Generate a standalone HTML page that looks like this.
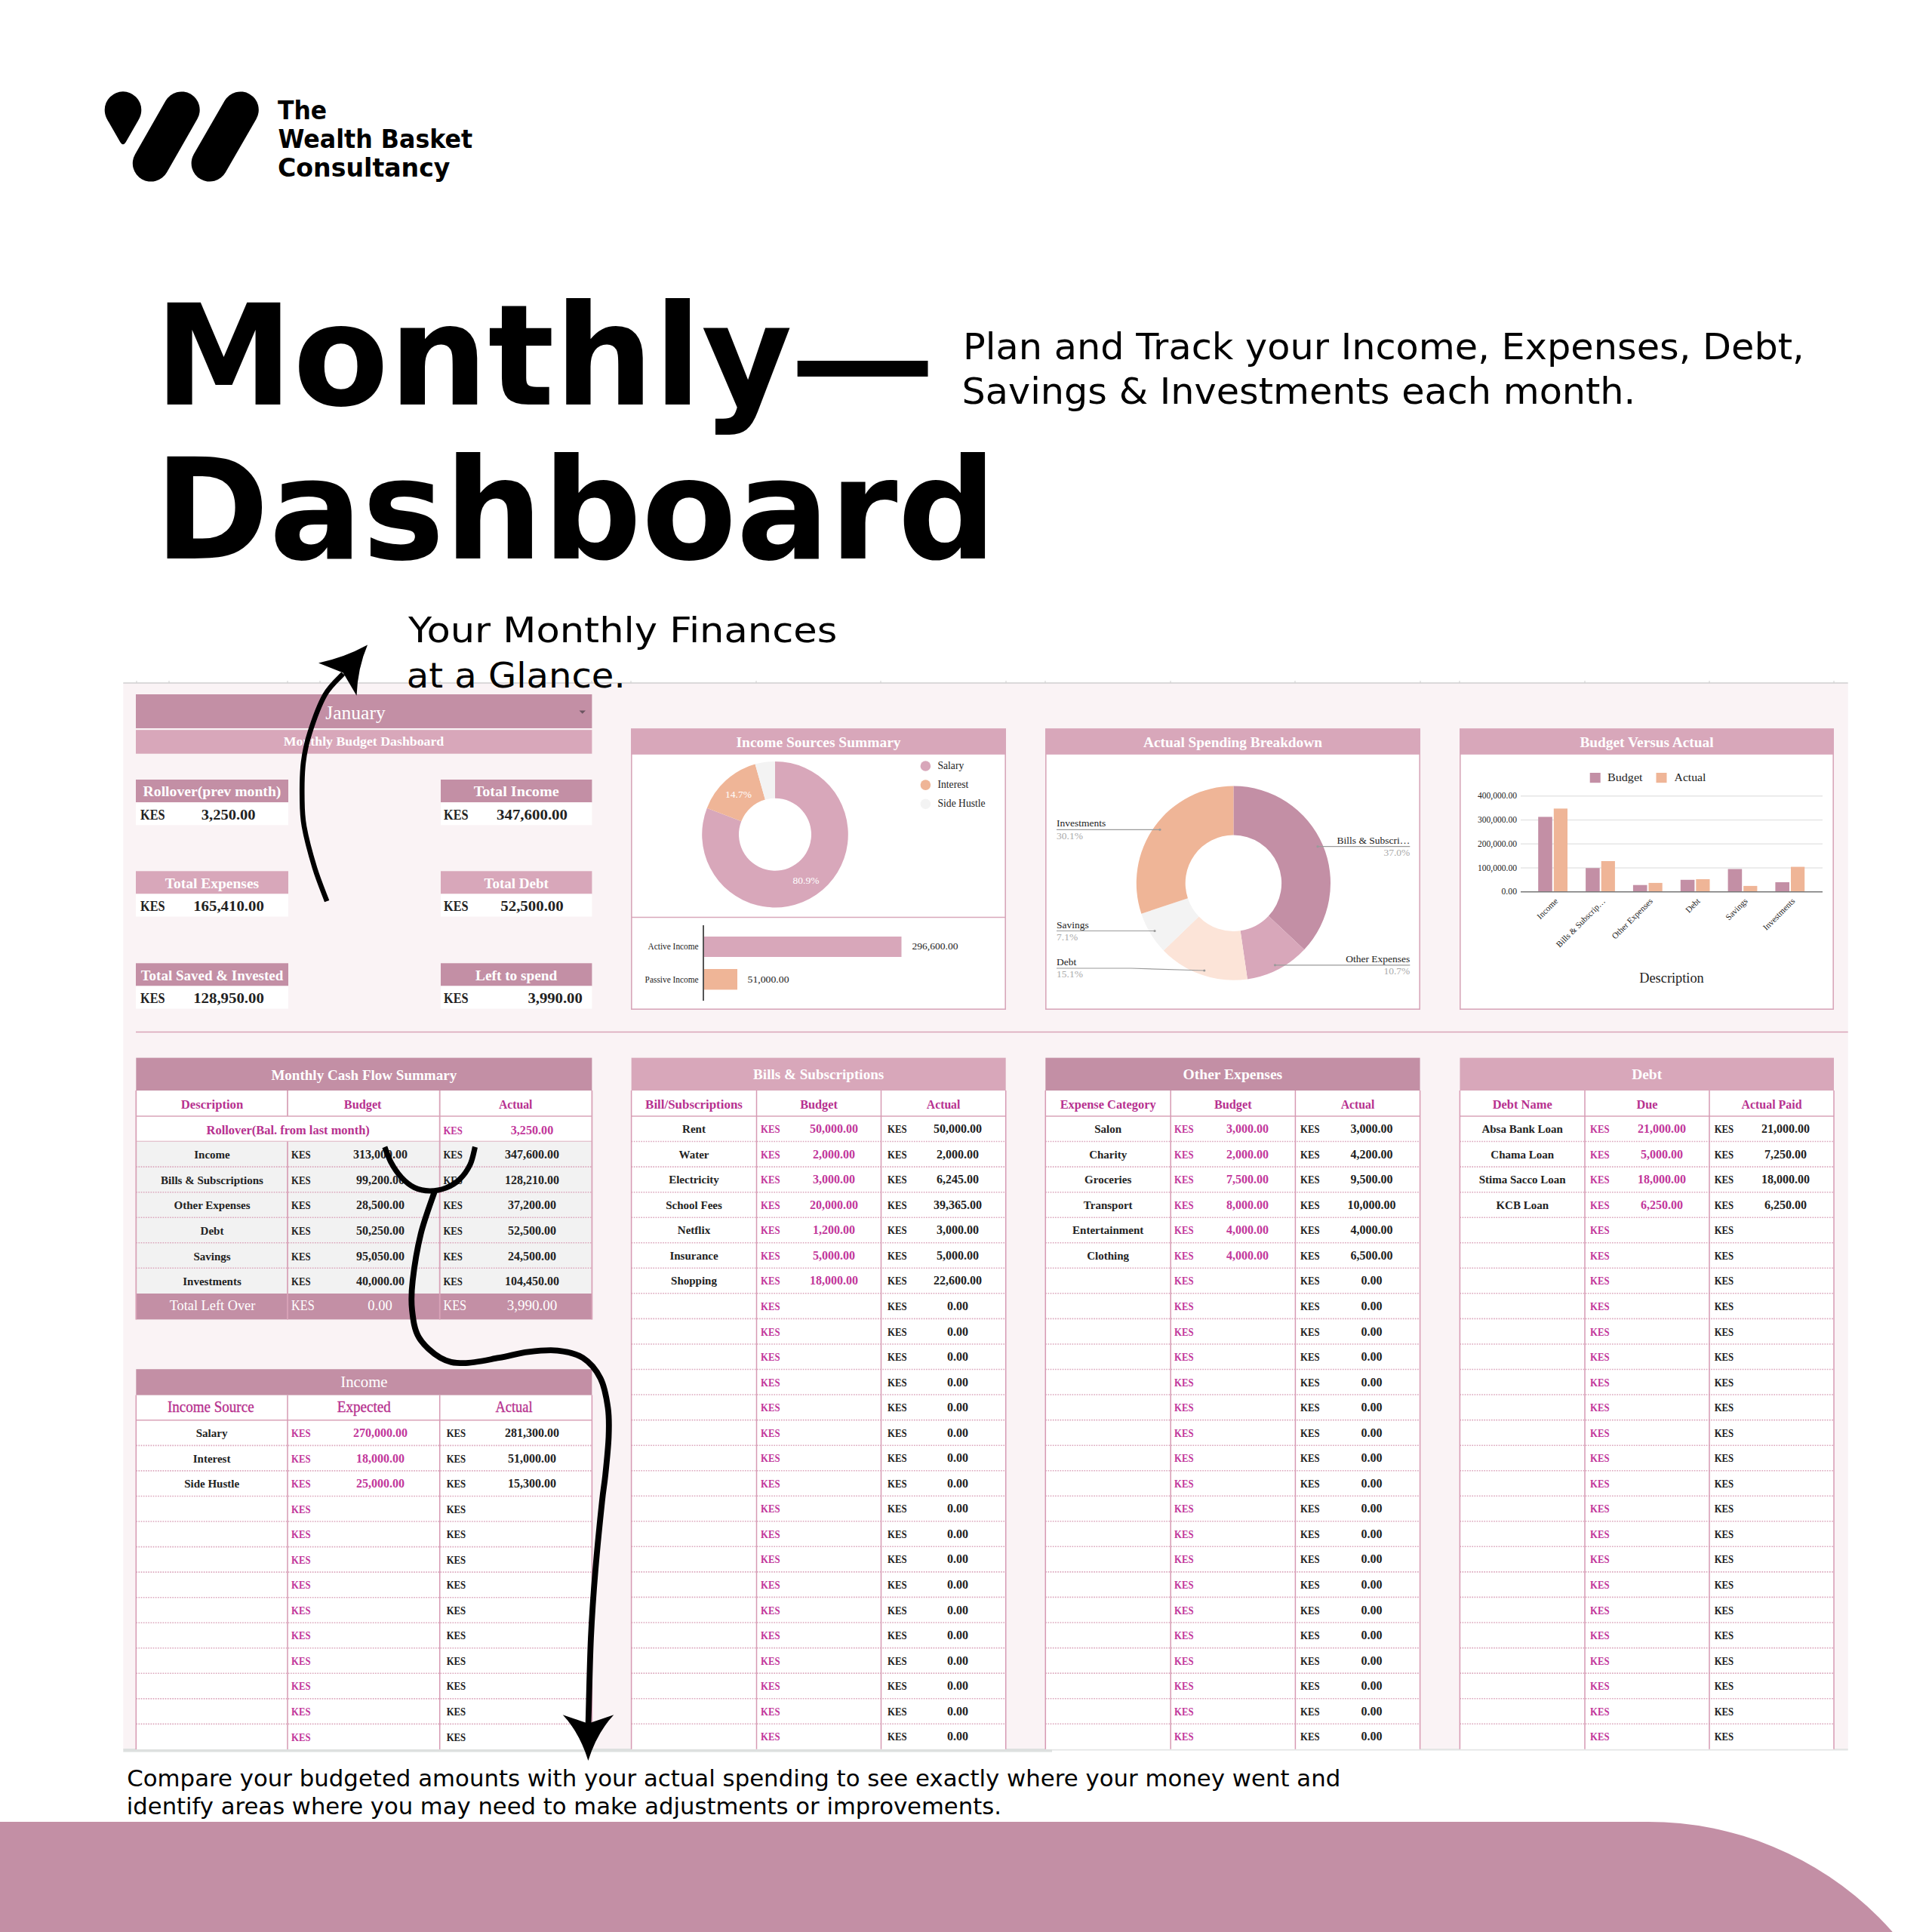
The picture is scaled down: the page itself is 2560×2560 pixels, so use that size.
<!DOCTYPE html>
<html lang="en"><head><meta charset="utf-8"><title>Monthly Dashboard</title>
<style>
html,body{margin:0;padding:0;background:#fff}
body{width:2560px;height:2560px;position:relative;overflow:hidden;font-family:"DejaVu Sans","Liberation Sans",sans-serif;color:#000}
.abs{position:absolute;white-space:nowrap;transform-origin:0 0;line-height:1}
#dash{position:absolute;left:0;top:0}
#dash text{font-family:'Liberation Serif','DejaVu Serif',serif}
.blob{position:absolute;left:-50px;top:2413.6px;width:2666px;height:700px;background:#C38FA5;border-top-right-radius:432px}
</style></head><body>
<div class="blob"></div>
<svg id="dash" width="2560" height="2560" viewBox="0 0 2560 2560">
<rect x="163.3" y="905.0" width="2285.4" height="1413.0" fill="#FAF3F5" />
<line x1="163.3" y1="905.0" x2="2448.7" y2="905.0" stroke="#CFCFCF" stroke-width="1.5" />
<line x1="181.0" y1="902.0" x2="181.0" y2="905.0" stroke="#CFCFCF" stroke-width="1" />
<line x1="224.0" y1="902.0" x2="224.0" y2="905.0" stroke="#CFCFCF" stroke-width="1" />
<line x1="381.0" y1="902.0" x2="381.0" y2="905.0" stroke="#CFCFCF" stroke-width="1" />
<line x1="424.0" y1="902.0" x2="424.0" y2="905.0" stroke="#CFCFCF" stroke-width="1" />
<line x1="583.0" y1="902.0" x2="583.0" y2="905.0" stroke="#CFCFCF" stroke-width="1" />
<line x1="626.0" y1="902.0" x2="626.0" y2="905.0" stroke="#CFCFCF" stroke-width="1" />
<line x1="784.0" y1="902.0" x2="784.0" y2="905.0" stroke="#CFCFCF" stroke-width="1" />
<line x1="836.0" y1="902.0" x2="836.0" y2="905.0" stroke="#CFCFCF" stroke-width="1" />
<line x1="1002.0" y1="902.0" x2="1002.0" y2="905.0" stroke="#CFCFCF" stroke-width="1" />
<line x1="1167.0" y1="902.0" x2="1167.0" y2="905.0" stroke="#CFCFCF" stroke-width="1" />
<line x1="1333.0" y1="902.0" x2="1333.0" y2="905.0" stroke="#CFCFCF" stroke-width="1" />
<line x1="1385.0" y1="902.0" x2="1385.0" y2="905.0" stroke="#CFCFCF" stroke-width="1" />
<line x1="1551.0" y1="902.0" x2="1551.0" y2="905.0" stroke="#CFCFCF" stroke-width="1" />
<line x1="1716.0" y1="902.0" x2="1716.0" y2="905.0" stroke="#CFCFCF" stroke-width="1" />
<line x1="1882.0" y1="902.0" x2="1882.0" y2="905.0" stroke="#CFCFCF" stroke-width="1" />
<line x1="1934.0" y1="902.0" x2="1934.0" y2="905.0" stroke="#CFCFCF" stroke-width="1" />
<line x1="2100.0" y1="902.0" x2="2100.0" y2="905.0" stroke="#CFCFCF" stroke-width="1" />
<line x1="2265.0" y1="902.0" x2="2265.0" y2="905.0" stroke="#CFCFCF" stroke-width="1" />
<line x1="2430.0" y1="902.0" x2="2430.0" y2="905.0" stroke="#CFCFCF" stroke-width="1" />
<rect x="163.3" y="2317.0" width="1230.7" height="4.5" fill="#DDE0DF" />
<rect x="1394.0" y="2317.0" width="1054.7" height="2.5" fill="#E4E6E5" />
<line x1="180.0" y1="1367.5" x2="2448.7" y2="1367.5" stroke="#D9A3B8" stroke-width="1.6" />
<rect x="180.0" y="920.0" width="604.4" height="45.0" fill="#C38FA5" />
<rect x="180.0" y="967.2" width="604.4" height="31.5" fill="#D8A7BA" />
<text x="471.0" y="953.0" font-size="25" fill="#fff" text-anchor="middle" font-weight="normal" textLength="79.5" lengthAdjust="spacingAndGlyphs" >January</text>
<path d="M767.5 941.5h8.5l-4.25 4.2z" fill="#6b5560"/>
<text x="482.0" y="987.6" font-size="17" fill="#fff" text-anchor="middle" font-weight="bold" textLength="212.5" lengthAdjust="spacingAndGlyphs" >Monthly Budget Dashboard</text>
<rect x="180.0" y="1033.0" width="202.0" height="30.2" fill="#C38FA5" />
<rect x="180.0" y="1063.2" width="202.0" height="30.1" fill="#fff" />
<text x="281.0" y="1055.3" font-size="19" fill="#fff" text-anchor="middle" font-weight="bold" textLength="182.8" lengthAdjust="spacingAndGlyphs" >Rollover(prev month)</text>
<text x="186.0" y="1085.5" font-size="18" fill="#222222" text-anchor="start" font-weight="bold" textLength="32.5" lengthAdjust="spacingAndGlyphs" >KES</text>
<text x="302.7" y="1085.5" font-size="18" fill="#222222" text-anchor="middle" font-weight="bold" textLength="71.7" lengthAdjust="spacingAndGlyphs" >3,250.00</text>
<rect x="584.0" y="1033.0" width="200.4" height="30.2" fill="#C38FA5" />
<rect x="584.0" y="1063.2" width="200.4" height="30.1" fill="#fff" />
<text x="684.2" y="1055.3" font-size="19" fill="#fff" text-anchor="middle" font-weight="bold" textLength="113.0" lengthAdjust="spacingAndGlyphs" >Total  Income</text>
<text x="588.0" y="1085.5" font-size="18" fill="#222222" text-anchor="start" font-weight="bold" textLength="32.5" lengthAdjust="spacingAndGlyphs" >KES</text>
<text x="705.0" y="1085.5" font-size="18" fill="#222222" text-anchor="middle" font-weight="bold" textLength="94.0" lengthAdjust="spacingAndGlyphs" >347,600.00</text>
<rect x="180.0" y="1154.3" width="202.0" height="30.2" fill="#D8A7BA" />
<rect x="180.0" y="1184.5" width="202.0" height="30.1" fill="#fff" />
<text x="281.0" y="1176.6" font-size="19" fill="#fff" text-anchor="middle" font-weight="bold" textLength="124.4" lengthAdjust="spacingAndGlyphs" >Total Expenses</text>
<text x="186.0" y="1206.8" font-size="18" fill="#222222" text-anchor="start" font-weight="bold" textLength="32.5" lengthAdjust="spacingAndGlyphs" >KES</text>
<text x="303.0" y="1206.8" font-size="18" fill="#222222" text-anchor="middle" font-weight="bold" textLength="93.6" lengthAdjust="spacingAndGlyphs" >165,410.00</text>
<rect x="584.0" y="1154.3" width="200.4" height="30.2" fill="#D8A7BA" />
<rect x="584.0" y="1184.5" width="200.4" height="30.1" fill="#fff" />
<text x="684.2" y="1176.6" font-size="19" fill="#fff" text-anchor="middle" font-weight="bold" textLength="85.4" lengthAdjust="spacingAndGlyphs" >Total Debt</text>
<text x="588.0" y="1206.8" font-size="18" fill="#222222" text-anchor="start" font-weight="bold" textLength="32.5" lengthAdjust="spacingAndGlyphs" >KES</text>
<text x="705.0" y="1206.8" font-size="18" fill="#222222" text-anchor="middle" font-weight="bold" textLength="83.4" lengthAdjust="spacingAndGlyphs" >52,500.00</text>
<rect x="180.0" y="1276.3" width="202.0" height="30.2" fill="#C38FA5" />
<rect x="180.0" y="1306.5" width="202.0" height="30.1" fill="#fff" />
<text x="281.0" y="1298.6" font-size="19" fill="#fff" text-anchor="middle" font-weight="bold" textLength="188.6" lengthAdjust="spacingAndGlyphs" >Total Saved &amp; Invested</text>
<text x="186.0" y="1328.8" font-size="18" fill="#222222" text-anchor="start" font-weight="bold" textLength="32.5" lengthAdjust="spacingAndGlyphs" >KES</text>
<text x="303.0" y="1328.8" font-size="18" fill="#222222" text-anchor="middle" font-weight="bold" textLength="93.6" lengthAdjust="spacingAndGlyphs" >128,950.00</text>
<rect x="584.0" y="1276.3" width="200.4" height="30.2" fill="#C38FA5" />
<rect x="584.0" y="1306.5" width="200.4" height="30.1" fill="#fff" />
<text x="684.2" y="1298.6" font-size="19" fill="#fff" text-anchor="middle" font-weight="bold" textLength="108.3" lengthAdjust="spacingAndGlyphs" >Left to spend</text>
<text x="588.0" y="1328.8" font-size="18" fill="#222222" text-anchor="start" font-weight="bold" textLength="32.5" lengthAdjust="spacingAndGlyphs" >KES</text>
<text x="771.8" y="1328.8" font-size="18" fill="#222222" text-anchor="end" font-weight="bold" textLength="72.4" lengthAdjust="spacingAndGlyphs" >3,990.00</text>
<rect x="836.8" y="966.2" width="495.4" height="371.0" fill="#fff" stroke="#D8A7BA" stroke-width="1.6"/>
<rect x="836.0" y="965.4" width="497.0" height="34.4" fill="#D8A7BA" />
<text x="1084.5" y="990.0" font-size="19" fill="#fff" text-anchor="middle" font-weight="bold" textLength="218.0" lengthAdjust="spacingAndGlyphs" >Income Sources Summary</text>
<rect x="1385.8" y="966.2" width="495.4" height="371.0" fill="#fff" stroke="#D8A7BA" stroke-width="1.6"/>
<rect x="1385.0" y="965.4" width="497.0" height="34.4" fill="#D8A7BA" />
<text x="1633.5" y="990.0" font-size="19" fill="#fff" text-anchor="middle" font-weight="bold" textLength="237.0" lengthAdjust="spacingAndGlyphs" >Actual Spending Breakdown</text>
<rect x="1934.8" y="966.2" width="494.4" height="371.0" fill="#fff" stroke="#D8A7BA" stroke-width="1.6"/>
<rect x="1934.0" y="965.4" width="496.0" height="34.4" fill="#D8A7BA" />
<text x="2182.0" y="990.0" font-size="19" fill="#fff" text-anchor="middle" font-weight="bold" textLength="177.2" lengthAdjust="spacingAndGlyphs" >Budget Versus Actual</text>
<path d="M1027.00 1008.90A96.8 96.8 0 1 1 936.78 1070.63L982.26 1088.31A48 48 0 1 0 1027.00 1057.70Z" fill="#D8A7BA"/>
<path d="M936.78 1070.63A96.8 96.8 0 0 1 1000.58 1012.58L1013.90 1059.52A48 48 0 0 0 982.26 1088.31Z" fill="#EFB597"/>
<path d="M1000.58 1012.58A96.8 96.8 0 0 1 1027.00 1008.90L1027.00 1057.70A48 48 0 0 0 1013.90 1059.52Z" fill="#F3F3F3"/>
<text x="978.5" y="1057.0" font-size="13.5" fill="#fff" text-anchor="middle" font-weight="normal" >14.7%</text>
<text x="1068.0" y="1170.5" font-size="13.5" fill="#fff" text-anchor="middle" font-weight="normal" >80.9%</text>
<circle cx="1226.4" cy="1015.0" r="6.8" fill="#D8A7BA"/>
<text x="1242.5" y="1019.0" font-size="13.6" fill="#222" text-anchor="start" font-weight="normal" >Salary</text>
<circle cx="1226.4" cy="1040.1" r="6.8" fill="#EFB597"/>
<text x="1242.5" y="1044.1" font-size="13.6" fill="#222" text-anchor="start" font-weight="normal" >Interest</text>
<circle cx="1226.4" cy="1065.2" r="6.8" fill="#F3F3F3"/>
<text x="1242.5" y="1069.2" font-size="13.6" fill="#222" text-anchor="start" font-weight="normal" >Side Hustle</text>
<line x1="836.0" y1="1215.5" x2="1333.0" y2="1215.5" stroke="#D8A7BA" stroke-width="1.6" />
<rect x="932.0" y="1241.0" width="262.5" height="27.0" fill="#D8A7BA" />
<rect x="932.0" y="1284.0" width="45.0" height="27.4" fill="#EFB597" />
<line x1="932.0" y1="1226.0" x2="932.0" y2="1326.0" stroke="#555" stroke-width="2" />
<text x="925.6" y="1258.0" font-size="11.5" fill="#222" text-anchor="end" font-weight="normal" textLength="67.0" lengthAdjust="spacingAndGlyphs" >Active Income</text>
<text x="925.6" y="1301.5" font-size="11.5" fill="#222" text-anchor="end" font-weight="normal" textLength="71.0" lengthAdjust="spacingAndGlyphs" >Passive Income</text>
<text x="1208.5" y="1258.0" font-size="12" fill="#222" text-anchor="start" font-weight="normal" textLength="61.0" lengthAdjust="spacingAndGlyphs" >296,600.00</text>
<text x="990.5" y="1301.5" font-size="12" fill="#222" text-anchor="start" font-weight="normal" textLength="55.0" lengthAdjust="spacingAndGlyphs" >51,000.00</text>
<path d="M1634.40 1041.60A128.6 128.6 0 0 1 1728.15 1258.23L1680.84 1213.81A63.7 63.7 0 0 0 1634.40 1106.50Z" fill="#C38FA5"/>
<path d="M1728.15 1258.23A128.6 128.6 0 0 1 1652.92 1297.46L1643.57 1233.24A63.7 63.7 0 0 0 1680.84 1213.81Z" fill="#D8A7BA"/>
<path d="M1652.92 1297.46A128.6 128.6 0 0 1 1541.77 1259.40L1588.52 1214.39A63.7 63.7 0 0 0 1643.57 1233.24Z" fill="#FCE4D8"/>
<path d="M1541.77 1259.40A128.6 128.6 0 0 1 1512.35 1210.71L1573.94 1190.26A63.7 63.7 0 0 0 1588.52 1214.39Z" fill="#F3F3F3"/>
<path d="M1512.35 1210.71A128.6 128.6 0 0 1 1634.40 1041.60L1634.40 1106.50A63.7 63.7 0 0 0 1573.94 1190.26Z" fill="#EFB597"/>
<text x="1400.0" y="1095.3" font-size="13.5" fill="#222" text-anchor="start" font-weight="normal" >Investments</text>
<text x="1400.0" y="1111.6" font-size="13.5" fill="#aaa" text-anchor="start" font-weight="normal" >30.1%</text>
<line x1="1400.0" y1="1099.3" x2="1536.9" y2="1099.3" stroke="#9a9a9a" stroke-width="1.2" />
<circle cx="1536.9" cy="1099.3" r="1.6" fill="#9a9a9a"/>
<text x="1400.0" y="1229.5" font-size="13.5" fill="#222" text-anchor="start" font-weight="normal" >Savings</text>
<text x="1400.0" y="1245.8" font-size="13.5" fill="#aaa" text-anchor="start" font-weight="normal" >7.1%</text>
<line x1="1400.0" y1="1233.5" x2="1530.0" y2="1233.5" stroke="#9a9a9a" stroke-width="1.2" />
<circle cx="1530.0" cy="1233.5" r="1.6" fill="#9a9a9a"/>
<text x="1400.0" y="1279.0" font-size="13.5" fill="#222" text-anchor="start" font-weight="normal" >Debt</text>
<text x="1400.0" y="1295.3" font-size="13.5" fill="#aaa" text-anchor="start" font-weight="normal" >15.1%</text>
<path d="M1400 1283.0H1498.6L1595.8 1286.0" fill="none" stroke="#9a9a9a" stroke-width="1.2"/>
<circle cx="1595.8" cy="1286.0" r="1.6" fill="#9a9a9a"/>
<text x="1868.3" y="1117.7" font-size="13.5" fill="#222" text-anchor="end" font-weight="normal" >Bills &amp; Subscri…</text>
<text x="1868.3" y="1134.0" font-size="13.5" fill="#aaa" text-anchor="end" font-weight="normal" >37.0%</text>
<line x1="1746.0" y1="1121.7" x2="1868.3" y2="1121.7" stroke="#9a9a9a" stroke-width="1.2" />
<circle cx="1746.0" cy="1121.7" r="1.6" fill="#9a9a9a"/>
<text x="1868.3" y="1274.8" font-size="13.5" fill="#222" text-anchor="end" font-weight="normal" >Other Expenses</text>
<text x="1868.3" y="1291.1" font-size="13.5" fill="#aaa" text-anchor="end" font-weight="normal" >10.7%</text>
<line x1="1689.5" y1="1278.8" x2="1868.3" y2="1278.8" stroke="#9a9a9a" stroke-width="1.2" />
<circle cx="1689.5" cy="1278.8" r="1.6" fill="#9a9a9a"/>
<text x="2010.0" y="1185.3" font-size="11.5" fill="#222" text-anchor="end" font-weight="normal" textLength="20.5" lengthAdjust="spacingAndGlyphs" >0.00</text>
<line x1="2015.0" y1="1150.0" x2="2415.0" y2="1150.0" stroke="#e6e6e6" stroke-width="1.4" />
<text x="2010.0" y="1153.6" font-size="11.5" fill="#222" text-anchor="end" font-weight="normal" textLength="52.0" lengthAdjust="spacingAndGlyphs" >100,000.00</text>
<line x1="2015.0" y1="1118.2" x2="2415.0" y2="1118.2" stroke="#e6e6e6" stroke-width="1.4" />
<text x="2010.0" y="1121.8" font-size="11.5" fill="#222" text-anchor="end" font-weight="normal" textLength="52.0" lengthAdjust="spacingAndGlyphs" >200,000.00</text>
<line x1="2015.0" y1="1086.5" x2="2415.0" y2="1086.5" stroke="#e6e6e6" stroke-width="1.4" />
<text x="2010.0" y="1090.1" font-size="11.5" fill="#222" text-anchor="end" font-weight="normal" textLength="52.0" lengthAdjust="spacingAndGlyphs" >300,000.00</text>
<line x1="2015.0" y1="1054.8" x2="2415.0" y2="1054.8" stroke="#e6e6e6" stroke-width="1.4" />
<text x="2010.0" y="1058.4" font-size="11.5" fill="#222" text-anchor="end" font-weight="normal" textLength="52.0" lengthAdjust="spacingAndGlyphs" >400,000.00</text>
<rect x="2038.2" y="1082.4" width="18.6" height="99.3" fill="#C38FA5" />
<rect x="2058.8" y="1071.4" width="18.2" height="110.3" fill="#EFB597" />
<text transform="translate(2060.7 1190.5) rotate(-45)" font-size="11.3" fill="#222" text-anchor="end" dy="6">Income</text>
<rect x="2101.1" y="1150.2" width="18.6" height="31.5" fill="#C38FA5" />
<rect x="2121.7" y="1141.0" width="18.2" height="40.7" fill="#EFB597" />
<text transform="translate(2123.6 1190.5) rotate(-45)" font-size="11.3" fill="#222" text-anchor="end" dy="6">Bills &amp; Subscrip…</text>
<rect x="2163.9" y="1172.7" width="18.6" height="9.0" fill="#C38FA5" />
<rect x="2184.5" y="1169.9" width="18.2" height="11.8" fill="#EFB597" />
<text transform="translate(2186.4 1190.5) rotate(-45)" font-size="11.3" fill="#222" text-anchor="end" dy="6">Other Expenses</text>
<rect x="2226.8" y="1165.8" width="18.6" height="15.9" fill="#C38FA5" />
<rect x="2247.3" y="1165.0" width="18.2" height="16.7" fill="#EFB597" />
<text transform="translate(2249.2 1190.5) rotate(-45)" font-size="11.3" fill="#222" text-anchor="end" dy="6">Debt</text>
<rect x="2289.6" y="1151.5" width="18.6" height="30.2" fill="#C38FA5" />
<rect x="2310.2" y="1173.9" width="18.2" height="7.8" fill="#EFB597" />
<text transform="translate(2312.1 1190.5) rotate(-45)" font-size="11.3" fill="#222" text-anchor="end" dy="6">Savings</text>
<rect x="2352.4" y="1169.0" width="18.6" height="12.7" fill="#C38FA5" />
<rect x="2373.0" y="1148.6" width="18.2" height="33.1" fill="#EFB597" />
<text transform="translate(2374.9 1190.5) rotate(-45)" font-size="11.3" fill="#222" text-anchor="end" dy="6">Investments</text>
<line x1="2015.0" y1="1181.7" x2="2415.0" y2="1181.7" stroke="#777" stroke-width="1.6" />
<rect x="2106.7" y="1024.0" width="14.0" height="13.2" fill="#C38FA5" />
<rect x="2194.5" y="1024.0" width="14.0" height="13.2" fill="#EFB597" />
<text x="2130.0" y="1035.3" font-size="15.5" fill="#222" text-anchor="start" font-weight="normal" textLength="46.5" lengthAdjust="spacingAndGlyphs" >Budget</text>
<text x="2218.5" y="1035.3" font-size="15.5" fill="#222" text-anchor="start" font-weight="normal" textLength="42.0" lengthAdjust="spacingAndGlyphs" >Actual</text>
<text x="2215.0" y="1301.6" font-size="19" fill="#222" text-anchor="middle" font-weight="normal" textLength="85.5" lengthAdjust="spacingAndGlyphs" >Description</text>
<rect x="180.3" y="1401.6" width="604.1" height="346.8" fill="#fff" />
<rect x="180.3" y="1401.6" width="604.1" height="43.4" fill="#C38FA5" />
<text x="482.3" y="1430.6" font-size="19" fill="#fff" text-anchor="middle" font-weight="bold" textLength="245.8" lengthAdjust="spacingAndGlyphs" >Monthly Cash Flow Summary</text>
<text x="281.0" y="1468.8" font-size="16.5" fill="#B7318F" text-anchor="middle" font-weight="bold" textLength="82.5" lengthAdjust="spacingAndGlyphs" >Description</text>
<text x="480.7" y="1468.8" font-size="16.5" fill="#B7318F" text-anchor="middle" font-weight="bold" textLength="49.7" lengthAdjust="spacingAndGlyphs" >Budget</text>
<text x="683.2" y="1468.8" font-size="16.5" fill="#B7318F" text-anchor="middle" font-weight="bold" textLength="44.5" lengthAdjust="spacingAndGlyphs" >Actual</text>
<line x1="180.3" y1="1479.0" x2="784.4" y2="1479.0" stroke="#D9A3B8" stroke-width="1.6" />
<text x="381.7" y="1502.5" font-size="16.5" fill="#B7318F" text-anchor="middle" font-weight="bold" textLength="216.3" lengthAdjust="spacingAndGlyphs" >Rollover(Bal. from last month)</text>
<text x="587.4" y="1502.5" font-size="15" fill="#C2379B" text-anchor="start" font-weight="bold" textLength="25.5" lengthAdjust="spacingAndGlyphs" >KES</text>
<text x="705.0" y="1502.5" font-size="16" fill="#C2379B" text-anchor="middle" font-weight="bold" textLength="56.5" lengthAdjust="spacingAndGlyphs" >3,250.00</text>
<line x1="180.3" y1="1512.6" x2="784.4" y2="1512.6" stroke="#D9A3B8" stroke-width="1.6" />
<rect x="180.3" y="1512.6" width="604.1" height="201.4" fill="#F2F2F2" />
<text x="281.0" y="1535.3" font-size="15" fill="#222222" text-anchor="middle" font-weight="bold" >Income</text>
<text x="386.0" y="1535.3" font-size="15" fill="#222222" text-anchor="start" font-weight="bold" textLength="25.5" lengthAdjust="spacingAndGlyphs" >KES</text>
<text x="587.4" y="1535.3" font-size="15" fill="#222222" text-anchor="start" font-weight="bold" textLength="25.5" lengthAdjust="spacingAndGlyphs" >KES</text>
<text x="504.0" y="1535.3" font-size="16" fill="#222222" text-anchor="middle" font-weight="bold" >313,000.00</text>
<text x="705.0" y="1535.3" font-size="16" fill="#222222" text-anchor="middle" font-weight="bold" >347,600.00</text>
<line x1="180.3" y1="1546.1" x2="784.4" y2="1546.1" stroke="#DBA6BC" stroke-width="1.6" stroke-dasharray="1.6 1.6"/>
<text x="281.0" y="1568.8" font-size="15" fill="#222222" text-anchor="middle" font-weight="bold" >Bills &amp; Subscriptions</text>
<text x="386.0" y="1568.8" font-size="15" fill="#222222" text-anchor="start" font-weight="bold" textLength="25.5" lengthAdjust="spacingAndGlyphs" >KES</text>
<text x="587.4" y="1568.8" font-size="15" fill="#222222" text-anchor="start" font-weight="bold" textLength="25.5" lengthAdjust="spacingAndGlyphs" >KES</text>
<text x="504.0" y="1568.8" font-size="16" fill="#222222" text-anchor="middle" font-weight="bold" >99,200.00</text>
<text x="705.0" y="1568.8" font-size="16" fill="#222222" text-anchor="middle" font-weight="bold" >128,210.00</text>
<line x1="180.3" y1="1579.7" x2="784.4" y2="1579.7" stroke="#DBA6BC" stroke-width="1.6" stroke-dasharray="1.6 1.6"/>
<text x="281.0" y="1602.4" font-size="15" fill="#222222" text-anchor="middle" font-weight="bold" >Other Expenses</text>
<text x="386.0" y="1602.4" font-size="15" fill="#222222" text-anchor="start" font-weight="bold" textLength="25.5" lengthAdjust="spacingAndGlyphs" >KES</text>
<text x="587.4" y="1602.4" font-size="15" fill="#222222" text-anchor="start" font-weight="bold" textLength="25.5" lengthAdjust="spacingAndGlyphs" >KES</text>
<text x="504.0" y="1602.4" font-size="16" fill="#222222" text-anchor="middle" font-weight="bold" >28,500.00</text>
<text x="705.0" y="1602.4" font-size="16" fill="#222222" text-anchor="middle" font-weight="bold" >37,200.00</text>
<line x1="180.3" y1="1613.2" x2="784.4" y2="1613.2" stroke="#DBA6BC" stroke-width="1.6" stroke-dasharray="1.6 1.6"/>
<text x="281.0" y="1636.0" font-size="15" fill="#222222" text-anchor="middle" font-weight="bold" >Debt</text>
<text x="386.0" y="1636.0" font-size="15" fill="#222222" text-anchor="start" font-weight="bold" textLength="25.5" lengthAdjust="spacingAndGlyphs" >KES</text>
<text x="587.4" y="1636.0" font-size="15" fill="#222222" text-anchor="start" font-weight="bold" textLength="25.5" lengthAdjust="spacingAndGlyphs" >KES</text>
<text x="504.0" y="1636.0" font-size="16" fill="#222222" text-anchor="middle" font-weight="bold" >50,250.00</text>
<text x="705.0" y="1636.0" font-size="16" fill="#222222" text-anchor="middle" font-weight="bold" >52,500.00</text>
<line x1="180.3" y1="1646.8" x2="784.4" y2="1646.8" stroke="#DBA6BC" stroke-width="1.6" stroke-dasharray="1.6 1.6"/>
<text x="281.0" y="1669.5" font-size="15" fill="#222222" text-anchor="middle" font-weight="bold" >Savings</text>
<text x="386.0" y="1669.5" font-size="15" fill="#222222" text-anchor="start" font-weight="bold" textLength="25.5" lengthAdjust="spacingAndGlyphs" >KES</text>
<text x="587.4" y="1669.5" font-size="15" fill="#222222" text-anchor="start" font-weight="bold" textLength="25.5" lengthAdjust="spacingAndGlyphs" >KES</text>
<text x="504.0" y="1669.5" font-size="16" fill="#222222" text-anchor="middle" font-weight="bold" >95,050.00</text>
<text x="705.0" y="1669.5" font-size="16" fill="#222222" text-anchor="middle" font-weight="bold" >24,500.00</text>
<line x1="180.3" y1="1680.3" x2="784.4" y2="1680.3" stroke="#DBA6BC" stroke-width="1.6" stroke-dasharray="1.6 1.6"/>
<text x="281.0" y="1703.0" font-size="15" fill="#222222" text-anchor="middle" font-weight="bold" >Investments</text>
<text x="386.0" y="1703.0" font-size="15" fill="#222222" text-anchor="start" font-weight="bold" textLength="25.5" lengthAdjust="spacingAndGlyphs" >KES</text>
<text x="587.4" y="1703.0" font-size="15" fill="#222222" text-anchor="start" font-weight="bold" textLength="25.5" lengthAdjust="spacingAndGlyphs" >KES</text>
<text x="504.0" y="1703.0" font-size="16" fill="#222222" text-anchor="middle" font-weight="bold" >40,000.00</text>
<text x="705.0" y="1703.0" font-size="16" fill="#222222" text-anchor="middle" font-weight="bold" >104,450.00</text>
<rect x="180.3" y="1714.0" width="604.1" height="34.4" fill="#C38FA5" />
<text x="281.5" y="1735.8" font-size="19" fill="#fff" text-anchor="middle" font-weight="normal" textLength="113.6" lengthAdjust="spacingAndGlyphs" >Total Left Over</text>
<text x="386.0" y="1735.8" font-size="18" fill="#fff" text-anchor="start" font-weight="normal" textLength="30.8" lengthAdjust="spacingAndGlyphs" >KES</text>
<text x="587.4" y="1735.8" font-size="18" fill="#fff" text-anchor="start" font-weight="normal" textLength="30.8" lengthAdjust="spacingAndGlyphs" >KES</text>
<text x="503.6" y="1735.8" font-size="19" fill="#fff" text-anchor="middle" font-weight="normal" textLength="32.5" lengthAdjust="spacingAndGlyphs" >0.00</text>
<text x="705.0" y="1735.8" font-size="19" fill="#fff" text-anchor="middle" font-weight="normal" textLength="66.6" lengthAdjust="spacingAndGlyphs" >3,990.00</text>
<line x1="180.3" y1="1445.0" x2="180.3" y2="1748.4" stroke="#D9A3B8" stroke-width="1.8" />
<line x1="784.4" y1="1445.0" x2="784.4" y2="1748.4" stroke="#D9A3B8" stroke-width="1.8" />
<line x1="582.7" y1="1445.0" x2="582.7" y2="1748.4" stroke="#D9A3B8" stroke-width="1.8" />
<line x1="381.0" y1="1445.0" x2="381.0" y2="1479.0" stroke="#D9A3B8" stroke-width="1.8" />
<line x1="381.0" y1="1512.6" x2="381.0" y2="1748.4" stroke="#D9A3B8" stroke-width="1.8" />
<rect x="180.3" y="1814.2" width="604.1" height="503.8" fill="#fff" />
<rect x="180.3" y="1814.2" width="604.1" height="34.4" fill="#C38FA5" />
<text x="482.4" y="1838.2" font-size="20" fill="#fff" text-anchor="middle" font-weight="normal" textLength="62.3" lengthAdjust="spacingAndGlyphs" >Income</text>
<text x="279.3" y="1871.4" font-size="21" fill="#B7318F" text-anchor="middle" font-weight="normal" textLength="114.6" lengthAdjust="spacingAndGlyphs" stroke="#B7318F" stroke-width="0.35">Income Source</text>
<text x="482.3" y="1871.4" font-size="21" fill="#B7318F" text-anchor="middle" font-weight="normal" textLength="70.9" lengthAdjust="spacingAndGlyphs" stroke="#B7318F" stroke-width="0.35">Expected</text>
<text x="681.0" y="1871.4" font-size="21" fill="#B7318F" text-anchor="middle" font-weight="normal" textLength="49.0" lengthAdjust="spacingAndGlyphs" stroke="#B7318F" stroke-width="0.35">Actual</text>
<line x1="180.3" y1="1881.8" x2="784.4" y2="1881.8" stroke="#D9A3B8" stroke-width="1.6" />
<text x="280.6" y="1903.9" font-size="15" fill="#222222" text-anchor="middle" font-weight="bold" >Salary</text>
<text x="386.0" y="1903.9" font-size="15" fill="#C2379B" text-anchor="start" font-weight="bold" textLength="25.5" lengthAdjust="spacingAndGlyphs" >KES</text>
<text x="591.7" y="1903.9" font-size="15" fill="#222222" text-anchor="start" font-weight="bold" textLength="25.5" lengthAdjust="spacingAndGlyphs" >KES</text>
<text x="504.0" y="1903.9" font-size="16" fill="#C2379B" text-anchor="middle" font-weight="bold" >270,000.00</text>
<text x="705.0" y="1903.9" font-size="16" fill="#222222" text-anchor="middle" font-weight="bold" >281,300.00</text>
<line x1="180.3" y1="1915.4" x2="784.4" y2="1915.4" stroke="#DBA6BC" stroke-width="1.6" stroke-dasharray="1.6 1.6"/>
<text x="280.6" y="1937.5" font-size="15" fill="#222222" text-anchor="middle" font-weight="bold" >Interest</text>
<text x="386.0" y="1937.5" font-size="15" fill="#C2379B" text-anchor="start" font-weight="bold" textLength="25.5" lengthAdjust="spacingAndGlyphs" >KES</text>
<text x="591.7" y="1937.5" font-size="15" fill="#222222" text-anchor="start" font-weight="bold" textLength="25.5" lengthAdjust="spacingAndGlyphs" >KES</text>
<text x="504.0" y="1937.5" font-size="16" fill="#C2379B" text-anchor="middle" font-weight="bold" >18,000.00</text>
<text x="705.0" y="1937.5" font-size="16" fill="#222222" text-anchor="middle" font-weight="bold" >51,000.00</text>
<line x1="180.3" y1="1948.9" x2="784.4" y2="1948.9" stroke="#DBA6BC" stroke-width="1.6" stroke-dasharray="1.6 1.6"/>
<text x="280.6" y="1971.0" font-size="15" fill="#222222" text-anchor="middle" font-weight="bold" >Side Hustle</text>
<text x="386.0" y="1971.0" font-size="15" fill="#C2379B" text-anchor="start" font-weight="bold" textLength="25.5" lengthAdjust="spacingAndGlyphs" >KES</text>
<text x="591.7" y="1971.0" font-size="15" fill="#222222" text-anchor="start" font-weight="bold" textLength="25.5" lengthAdjust="spacingAndGlyphs" >KES</text>
<text x="504.0" y="1971.0" font-size="16" fill="#C2379B" text-anchor="middle" font-weight="bold" >25,000.00</text>
<text x="705.0" y="1971.0" font-size="16" fill="#222222" text-anchor="middle" font-weight="bold" >15,300.00</text>
<line x1="180.3" y1="1982.5" x2="784.4" y2="1982.5" stroke="#DBA6BC" stroke-width="1.6" stroke-dasharray="1.6 1.6"/>
<text x="386.0" y="2004.6" font-size="15" fill="#C2379B" text-anchor="start" font-weight="bold" textLength="25.5" lengthAdjust="spacingAndGlyphs" >KES</text>
<text x="591.7" y="2004.6" font-size="15" fill="#222222" text-anchor="start" font-weight="bold" textLength="25.5" lengthAdjust="spacingAndGlyphs" >KES</text>
<line x1="180.3" y1="2016.0" x2="784.4" y2="2016.0" stroke="#DBA6BC" stroke-width="1.6" stroke-dasharray="1.6 1.6"/>
<text x="386.0" y="2038.1" font-size="15" fill="#C2379B" text-anchor="start" font-weight="bold" textLength="25.5" lengthAdjust="spacingAndGlyphs" >KES</text>
<text x="591.7" y="2038.1" font-size="15" fill="#222222" text-anchor="start" font-weight="bold" textLength="25.5" lengthAdjust="spacingAndGlyphs" >KES</text>
<line x1="180.3" y1="2049.6" x2="784.4" y2="2049.6" stroke="#DBA6BC" stroke-width="1.6" stroke-dasharray="1.6 1.6"/>
<text x="386.0" y="2071.7" font-size="15" fill="#C2379B" text-anchor="start" font-weight="bold" textLength="25.5" lengthAdjust="spacingAndGlyphs" >KES</text>
<text x="591.7" y="2071.7" font-size="15" fill="#222222" text-anchor="start" font-weight="bold" textLength="25.5" lengthAdjust="spacingAndGlyphs" >KES</text>
<line x1="180.3" y1="2083.1" x2="784.4" y2="2083.1" stroke="#DBA6BC" stroke-width="1.6" stroke-dasharray="1.6 1.6"/>
<text x="386.0" y="2105.2" font-size="15" fill="#C2379B" text-anchor="start" font-weight="bold" textLength="25.5" lengthAdjust="spacingAndGlyphs" >KES</text>
<text x="591.7" y="2105.2" font-size="15" fill="#222222" text-anchor="start" font-weight="bold" textLength="25.5" lengthAdjust="spacingAndGlyphs" >KES</text>
<line x1="180.3" y1="2116.7" x2="784.4" y2="2116.7" stroke="#DBA6BC" stroke-width="1.6" stroke-dasharray="1.6 1.6"/>
<text x="386.0" y="2138.8" font-size="15" fill="#C2379B" text-anchor="start" font-weight="bold" textLength="25.5" lengthAdjust="spacingAndGlyphs" >KES</text>
<text x="591.7" y="2138.8" font-size="15" fill="#222222" text-anchor="start" font-weight="bold" textLength="25.5" lengthAdjust="spacingAndGlyphs" >KES</text>
<line x1="180.3" y1="2150.2" x2="784.4" y2="2150.2" stroke="#DBA6BC" stroke-width="1.6" stroke-dasharray="1.6 1.6"/>
<text x="386.0" y="2172.3" font-size="15" fill="#C2379B" text-anchor="start" font-weight="bold" textLength="25.5" lengthAdjust="spacingAndGlyphs" >KES</text>
<text x="591.7" y="2172.3" font-size="15" fill="#222222" text-anchor="start" font-weight="bold" textLength="25.5" lengthAdjust="spacingAndGlyphs" >KES</text>
<line x1="180.3" y1="2183.8" x2="784.4" y2="2183.8" stroke="#DBA6BC" stroke-width="1.6" stroke-dasharray="1.6 1.6"/>
<text x="386.0" y="2205.8" font-size="15" fill="#C2379B" text-anchor="start" font-weight="bold" textLength="25.5" lengthAdjust="spacingAndGlyphs" >KES</text>
<text x="591.7" y="2205.8" font-size="15" fill="#222222" text-anchor="start" font-weight="bold" textLength="25.5" lengthAdjust="spacingAndGlyphs" >KES</text>
<line x1="180.3" y1="2217.3" x2="784.4" y2="2217.3" stroke="#DBA6BC" stroke-width="1.6" stroke-dasharray="1.6 1.6"/>
<text x="386.0" y="2239.4" font-size="15" fill="#C2379B" text-anchor="start" font-weight="bold" textLength="25.5" lengthAdjust="spacingAndGlyphs" >KES</text>
<text x="591.7" y="2239.4" font-size="15" fill="#222222" text-anchor="start" font-weight="bold" textLength="25.5" lengthAdjust="spacingAndGlyphs" >KES</text>
<line x1="180.3" y1="2250.9" x2="784.4" y2="2250.9" stroke="#DBA6BC" stroke-width="1.6" stroke-dasharray="1.6 1.6"/>
<text x="386.0" y="2273.0" font-size="15" fill="#C2379B" text-anchor="start" font-weight="bold" textLength="25.5" lengthAdjust="spacingAndGlyphs" >KES</text>
<text x="591.7" y="2273.0" font-size="15" fill="#222222" text-anchor="start" font-weight="bold" textLength="25.5" lengthAdjust="spacingAndGlyphs" >KES</text>
<line x1="180.3" y1="2284.4" x2="784.4" y2="2284.4" stroke="#DBA6BC" stroke-width="1.6" stroke-dasharray="1.6 1.6"/>
<text x="386.0" y="2306.5" font-size="15" fill="#C2379B" text-anchor="start" font-weight="bold" textLength="25.5" lengthAdjust="spacingAndGlyphs" >KES</text>
<text x="591.7" y="2306.5" font-size="15" fill="#222222" text-anchor="start" font-weight="bold" textLength="25.5" lengthAdjust="spacingAndGlyphs" >KES</text>
<line x1="180.3" y1="1848.6" x2="180.3" y2="2318.0" stroke="#D69AB3" stroke-width="1.5" />
<line x1="381.0" y1="1848.6" x2="381.0" y2="2318.0" stroke="#D69AB3" stroke-width="1.5" />
<line x1="582.7" y1="1848.6" x2="582.7" y2="2318.0" stroke="#D69AB3" stroke-width="1.5" />
<line x1="784.4" y1="1848.6" x2="784.4" y2="2318.0" stroke="#D69AB3" stroke-width="1.5" />
<rect x="836.6" y="1401.6" width="496.1" height="916.2" fill="#fff" />
<rect x="836.6" y="1401.6" width="496.1" height="43.4" fill="#D8A7BA" />
<text x="1084.7" y="1430.4" font-size="19" fill="#fff" text-anchor="middle" font-weight="bold" textLength="173.2" lengthAdjust="spacingAndGlyphs" >Bills &amp; Subscriptions</text>
<text x="919.5" y="1468.6" font-size="16.5" fill="#B7318F" text-anchor="middle" font-weight="bold" textLength="128.8" lengthAdjust="spacingAndGlyphs" >Bill/Subscriptions</text>
<text x="1085.0" y="1468.6" font-size="16.5" fill="#B7318F" text-anchor="middle" font-weight="bold" textLength="49.7" lengthAdjust="spacingAndGlyphs" >Budget</text>
<text x="1250.1" y="1468.6" font-size="16.5" fill="#B7318F" text-anchor="middle" font-weight="bold" textLength="44.5" lengthAdjust="spacingAndGlyphs" >Actual</text>
<line x1="836.6" y1="1479.0" x2="1332.7" y2="1479.0" stroke="#D9A3B8" stroke-width="1.6" />
<text x="919.5" y="1501.1" font-size="15" fill="#222222" text-anchor="middle" font-weight="bold" >Rent</text>
<text x="1008.0" y="1501.1" font-size="15" fill="#C2379B" text-anchor="start" font-weight="bold" textLength="25.5" lengthAdjust="spacingAndGlyphs" >KES</text>
<text x="1176.0" y="1501.1" font-size="15" fill="#222222" text-anchor="start" font-weight="bold" textLength="25.5" lengthAdjust="spacingAndGlyphs" >KES</text>
<text x="1105.0" y="1501.1" font-size="16" fill="#C2379B" text-anchor="middle" font-weight="bold" >50,000.00</text>
<text x="1269.0" y="1501.1" font-size="16" fill="#222222" text-anchor="middle" font-weight="bold" >50,000.00</text>
<line x1="836.6" y1="1512.5" x2="1332.7" y2="1512.5" stroke="#DBA6BC" stroke-width="1.6" stroke-dasharray="1.6 1.6"/>
<text x="919.5" y="1534.6" font-size="15" fill="#222222" text-anchor="middle" font-weight="bold" >Water</text>
<text x="1008.0" y="1534.6" font-size="15" fill="#C2379B" text-anchor="start" font-weight="bold" textLength="25.5" lengthAdjust="spacingAndGlyphs" >KES</text>
<text x="1176.0" y="1534.6" font-size="15" fill="#222222" text-anchor="start" font-weight="bold" textLength="25.5" lengthAdjust="spacingAndGlyphs" >KES</text>
<text x="1105.0" y="1534.6" font-size="16" fill="#C2379B" text-anchor="middle" font-weight="bold" >2,000.00</text>
<text x="1269.0" y="1534.6" font-size="16" fill="#222222" text-anchor="middle" font-weight="bold" >2,000.00</text>
<line x1="836.6" y1="1546.1" x2="1332.7" y2="1546.1" stroke="#DBA6BC" stroke-width="1.6" stroke-dasharray="1.6 1.6"/>
<text x="919.5" y="1568.2" font-size="15" fill="#222222" text-anchor="middle" font-weight="bold" >Electricity</text>
<text x="1008.0" y="1568.2" font-size="15" fill="#C2379B" text-anchor="start" font-weight="bold" textLength="25.5" lengthAdjust="spacingAndGlyphs" >KES</text>
<text x="1176.0" y="1568.2" font-size="15" fill="#222222" text-anchor="start" font-weight="bold" textLength="25.5" lengthAdjust="spacingAndGlyphs" >KES</text>
<text x="1105.0" y="1568.2" font-size="16" fill="#C2379B" text-anchor="middle" font-weight="bold" >3,000.00</text>
<text x="1269.0" y="1568.2" font-size="16" fill="#222222" text-anchor="middle" font-weight="bold" >6,245.00</text>
<line x1="836.6" y1="1579.7" x2="1332.7" y2="1579.7" stroke="#DBA6BC" stroke-width="1.6" stroke-dasharray="1.6 1.6"/>
<text x="919.5" y="1601.8" font-size="15" fill="#222222" text-anchor="middle" font-weight="bold" >School Fees</text>
<text x="1008.0" y="1601.8" font-size="15" fill="#C2379B" text-anchor="start" font-weight="bold" textLength="25.5" lengthAdjust="spacingAndGlyphs" >KES</text>
<text x="1176.0" y="1601.8" font-size="15" fill="#222222" text-anchor="start" font-weight="bold" textLength="25.5" lengthAdjust="spacingAndGlyphs" >KES</text>
<text x="1105.0" y="1601.8" font-size="16" fill="#C2379B" text-anchor="middle" font-weight="bold" >20,000.00</text>
<text x="1269.0" y="1601.8" font-size="16" fill="#222222" text-anchor="middle" font-weight="bold" >39,365.00</text>
<line x1="836.6" y1="1613.2" x2="1332.7" y2="1613.2" stroke="#DBA6BC" stroke-width="1.6" stroke-dasharray="1.6 1.6"/>
<text x="919.5" y="1635.3" font-size="15" fill="#222222" text-anchor="middle" font-weight="bold" >Netflix</text>
<text x="1008.0" y="1635.3" font-size="15" fill="#C2379B" text-anchor="start" font-weight="bold" textLength="25.5" lengthAdjust="spacingAndGlyphs" >KES</text>
<text x="1176.0" y="1635.3" font-size="15" fill="#222222" text-anchor="start" font-weight="bold" textLength="25.5" lengthAdjust="spacingAndGlyphs" >KES</text>
<text x="1105.0" y="1635.3" font-size="16" fill="#C2379B" text-anchor="middle" font-weight="bold" >1,200.00</text>
<text x="1269.0" y="1635.3" font-size="16" fill="#222222" text-anchor="middle" font-weight="bold" >3,000.00</text>
<line x1="836.6" y1="1646.8" x2="1332.7" y2="1646.8" stroke="#DBA6BC" stroke-width="1.6" stroke-dasharray="1.6 1.6"/>
<text x="919.5" y="1668.8" font-size="15" fill="#222222" text-anchor="middle" font-weight="bold" >Insurance</text>
<text x="1008.0" y="1668.8" font-size="15" fill="#C2379B" text-anchor="start" font-weight="bold" textLength="25.5" lengthAdjust="spacingAndGlyphs" >KES</text>
<text x="1176.0" y="1668.8" font-size="15" fill="#222222" text-anchor="start" font-weight="bold" textLength="25.5" lengthAdjust="spacingAndGlyphs" >KES</text>
<text x="1105.0" y="1668.8" font-size="16" fill="#C2379B" text-anchor="middle" font-weight="bold" >5,000.00</text>
<text x="1269.0" y="1668.8" font-size="16" fill="#222222" text-anchor="middle" font-weight="bold" >5,000.00</text>
<line x1="836.6" y1="1680.3" x2="1332.7" y2="1680.3" stroke="#DBA6BC" stroke-width="1.6" stroke-dasharray="1.6 1.6"/>
<text x="919.5" y="1702.4" font-size="15" fill="#222222" text-anchor="middle" font-weight="bold" >Shopping</text>
<text x="1008.0" y="1702.4" font-size="15" fill="#C2379B" text-anchor="start" font-weight="bold" textLength="25.5" lengthAdjust="spacingAndGlyphs" >KES</text>
<text x="1176.0" y="1702.4" font-size="15" fill="#222222" text-anchor="start" font-weight="bold" textLength="25.5" lengthAdjust="spacingAndGlyphs" >KES</text>
<text x="1105.0" y="1702.4" font-size="16" fill="#C2379B" text-anchor="middle" font-weight="bold" >18,000.00</text>
<text x="1269.0" y="1702.4" font-size="16" fill="#222222" text-anchor="middle" font-weight="bold" >22,600.00</text>
<line x1="836.6" y1="1713.8" x2="1332.7" y2="1713.8" stroke="#DBA6BC" stroke-width="1.6" stroke-dasharray="1.6 1.6"/>
<text x="1008.0" y="1735.9" font-size="15" fill="#C2379B" text-anchor="start" font-weight="bold" textLength="25.5" lengthAdjust="spacingAndGlyphs" >KES</text>
<text x="1176.0" y="1735.9" font-size="15" fill="#222222" text-anchor="start" font-weight="bold" textLength="25.5" lengthAdjust="spacingAndGlyphs" >KES</text>
<text x="1269.0" y="1735.9" font-size="16" fill="#222222" text-anchor="middle" font-weight="bold" >0.00</text>
<line x1="836.6" y1="1747.4" x2="1332.7" y2="1747.4" stroke="#DBA6BC" stroke-width="1.6" stroke-dasharray="1.6 1.6"/>
<text x="1008.0" y="1769.5" font-size="15" fill="#C2379B" text-anchor="start" font-weight="bold" textLength="25.5" lengthAdjust="spacingAndGlyphs" >KES</text>
<text x="1176.0" y="1769.5" font-size="15" fill="#222222" text-anchor="start" font-weight="bold" textLength="25.5" lengthAdjust="spacingAndGlyphs" >KES</text>
<text x="1269.0" y="1769.5" font-size="16" fill="#222222" text-anchor="middle" font-weight="bold" >0.00</text>
<line x1="836.6" y1="1781.0" x2="1332.7" y2="1781.0" stroke="#DBA6BC" stroke-width="1.6" stroke-dasharray="1.6 1.6"/>
<text x="1008.0" y="1803.0" font-size="15" fill="#C2379B" text-anchor="start" font-weight="bold" textLength="25.5" lengthAdjust="spacingAndGlyphs" >KES</text>
<text x="1176.0" y="1803.0" font-size="15" fill="#222222" text-anchor="start" font-weight="bold" textLength="25.5" lengthAdjust="spacingAndGlyphs" >KES</text>
<text x="1269.0" y="1803.0" font-size="16" fill="#222222" text-anchor="middle" font-weight="bold" >0.00</text>
<line x1="836.6" y1="1814.5" x2="1332.7" y2="1814.5" stroke="#DBA6BC" stroke-width="1.6" stroke-dasharray="1.6 1.6"/>
<text x="1008.0" y="1836.6" font-size="15" fill="#C2379B" text-anchor="start" font-weight="bold" textLength="25.5" lengthAdjust="spacingAndGlyphs" >KES</text>
<text x="1176.0" y="1836.6" font-size="15" fill="#222222" text-anchor="start" font-weight="bold" textLength="25.5" lengthAdjust="spacingAndGlyphs" >KES</text>
<text x="1269.0" y="1836.6" font-size="16" fill="#222222" text-anchor="middle" font-weight="bold" >0.00</text>
<line x1="836.6" y1="1848.0" x2="1332.7" y2="1848.0" stroke="#DBA6BC" stroke-width="1.6" stroke-dasharray="1.6 1.6"/>
<text x="1008.0" y="1870.1" font-size="15" fill="#C2379B" text-anchor="start" font-weight="bold" textLength="25.5" lengthAdjust="spacingAndGlyphs" >KES</text>
<text x="1176.0" y="1870.1" font-size="15" fill="#222222" text-anchor="start" font-weight="bold" textLength="25.5" lengthAdjust="spacingAndGlyphs" >KES</text>
<text x="1269.0" y="1870.1" font-size="16" fill="#222222" text-anchor="middle" font-weight="bold" >0.00</text>
<line x1="836.6" y1="1881.6" x2="1332.7" y2="1881.6" stroke="#DBA6BC" stroke-width="1.6" stroke-dasharray="1.6 1.6"/>
<text x="1008.0" y="1903.7" font-size="15" fill="#C2379B" text-anchor="start" font-weight="bold" textLength="25.5" lengthAdjust="spacingAndGlyphs" >KES</text>
<text x="1176.0" y="1903.7" font-size="15" fill="#222222" text-anchor="start" font-weight="bold" textLength="25.5" lengthAdjust="spacingAndGlyphs" >KES</text>
<text x="1269.0" y="1903.7" font-size="16" fill="#222222" text-anchor="middle" font-weight="bold" >0.00</text>
<line x1="836.6" y1="1915.2" x2="1332.7" y2="1915.2" stroke="#DBA6BC" stroke-width="1.6" stroke-dasharray="1.6 1.6"/>
<text x="1008.0" y="1937.2" font-size="15" fill="#C2379B" text-anchor="start" font-weight="bold" textLength="25.5" lengthAdjust="spacingAndGlyphs" >KES</text>
<text x="1176.0" y="1937.2" font-size="15" fill="#222222" text-anchor="start" font-weight="bold" textLength="25.5" lengthAdjust="spacingAndGlyphs" >KES</text>
<text x="1269.0" y="1937.2" font-size="16" fill="#222222" text-anchor="middle" font-weight="bold" >0.00</text>
<line x1="836.6" y1="1948.7" x2="1332.7" y2="1948.7" stroke="#DBA6BC" stroke-width="1.6" stroke-dasharray="1.6 1.6"/>
<text x="1008.0" y="1970.8" font-size="15" fill="#C2379B" text-anchor="start" font-weight="bold" textLength="25.5" lengthAdjust="spacingAndGlyphs" >KES</text>
<text x="1176.0" y="1970.8" font-size="15" fill="#222222" text-anchor="start" font-weight="bold" textLength="25.5" lengthAdjust="spacingAndGlyphs" >KES</text>
<text x="1269.0" y="1970.8" font-size="16" fill="#222222" text-anchor="middle" font-weight="bold" >0.00</text>
<line x1="836.6" y1="1982.2" x2="1332.7" y2="1982.2" stroke="#DBA6BC" stroke-width="1.6" stroke-dasharray="1.6 1.6"/>
<text x="1008.0" y="2004.3" font-size="15" fill="#C2379B" text-anchor="start" font-weight="bold" textLength="25.5" lengthAdjust="spacingAndGlyphs" >KES</text>
<text x="1176.0" y="2004.3" font-size="15" fill="#222222" text-anchor="start" font-weight="bold" textLength="25.5" lengthAdjust="spacingAndGlyphs" >KES</text>
<text x="1269.0" y="2004.3" font-size="16" fill="#222222" text-anchor="middle" font-weight="bold" >0.00</text>
<line x1="836.6" y1="2015.8" x2="1332.7" y2="2015.8" stroke="#DBA6BC" stroke-width="1.6" stroke-dasharray="1.6 1.6"/>
<text x="1008.0" y="2037.9" font-size="15" fill="#C2379B" text-anchor="start" font-weight="bold" textLength="25.5" lengthAdjust="spacingAndGlyphs" >KES</text>
<text x="1176.0" y="2037.9" font-size="15" fill="#222222" text-anchor="start" font-weight="bold" textLength="25.5" lengthAdjust="spacingAndGlyphs" >KES</text>
<text x="1269.0" y="2037.9" font-size="16" fill="#222222" text-anchor="middle" font-weight="bold" >0.00</text>
<line x1="836.6" y1="2049.3" x2="1332.7" y2="2049.3" stroke="#DBA6BC" stroke-width="1.6" stroke-dasharray="1.6 1.6"/>
<text x="1008.0" y="2071.4" font-size="15" fill="#C2379B" text-anchor="start" font-weight="bold" textLength="25.5" lengthAdjust="spacingAndGlyphs" >KES</text>
<text x="1176.0" y="2071.4" font-size="15" fill="#222222" text-anchor="start" font-weight="bold" textLength="25.5" lengthAdjust="spacingAndGlyphs" >KES</text>
<text x="1269.0" y="2071.4" font-size="16" fill="#222222" text-anchor="middle" font-weight="bold" >0.00</text>
<line x1="836.6" y1="2082.9" x2="1332.7" y2="2082.9" stroke="#DBA6BC" stroke-width="1.6" stroke-dasharray="1.6 1.6"/>
<text x="1008.0" y="2105.0" font-size="15" fill="#C2379B" text-anchor="start" font-weight="bold" textLength="25.5" lengthAdjust="spacingAndGlyphs" >KES</text>
<text x="1176.0" y="2105.0" font-size="15" fill="#222222" text-anchor="start" font-weight="bold" textLength="25.5" lengthAdjust="spacingAndGlyphs" >KES</text>
<text x="1269.0" y="2105.0" font-size="16" fill="#222222" text-anchor="middle" font-weight="bold" >0.00</text>
<line x1="836.6" y1="2116.4" x2="1332.7" y2="2116.4" stroke="#DBA6BC" stroke-width="1.6" stroke-dasharray="1.6 1.6"/>
<text x="1008.0" y="2138.5" font-size="15" fill="#C2379B" text-anchor="start" font-weight="bold" textLength="25.5" lengthAdjust="spacingAndGlyphs" >KES</text>
<text x="1176.0" y="2138.5" font-size="15" fill="#222222" text-anchor="start" font-weight="bold" textLength="25.5" lengthAdjust="spacingAndGlyphs" >KES</text>
<text x="1269.0" y="2138.5" font-size="16" fill="#222222" text-anchor="middle" font-weight="bold" >0.00</text>
<line x1="836.6" y1="2150.0" x2="1332.7" y2="2150.0" stroke="#DBA6BC" stroke-width="1.6" stroke-dasharray="1.6 1.6"/>
<text x="1008.0" y="2172.1" font-size="15" fill="#C2379B" text-anchor="start" font-weight="bold" textLength="25.5" lengthAdjust="spacingAndGlyphs" >KES</text>
<text x="1176.0" y="2172.1" font-size="15" fill="#222222" text-anchor="start" font-weight="bold" textLength="25.5" lengthAdjust="spacingAndGlyphs" >KES</text>
<text x="1269.0" y="2172.1" font-size="16" fill="#222222" text-anchor="middle" font-weight="bold" >0.00</text>
<line x1="836.6" y1="2183.6" x2="1332.7" y2="2183.6" stroke="#DBA6BC" stroke-width="1.6" stroke-dasharray="1.6 1.6"/>
<text x="1008.0" y="2205.7" font-size="15" fill="#C2379B" text-anchor="start" font-weight="bold" textLength="25.5" lengthAdjust="spacingAndGlyphs" >KES</text>
<text x="1176.0" y="2205.7" font-size="15" fill="#222222" text-anchor="start" font-weight="bold" textLength="25.5" lengthAdjust="spacingAndGlyphs" >KES</text>
<text x="1269.0" y="2205.7" font-size="16" fill="#222222" text-anchor="middle" font-weight="bold" >0.00</text>
<line x1="836.6" y1="2217.1" x2="1332.7" y2="2217.1" stroke="#DBA6BC" stroke-width="1.6" stroke-dasharray="1.6 1.6"/>
<text x="1008.0" y="2239.2" font-size="15" fill="#C2379B" text-anchor="start" font-weight="bold" textLength="25.5" lengthAdjust="spacingAndGlyphs" >KES</text>
<text x="1176.0" y="2239.2" font-size="15" fill="#222222" text-anchor="start" font-weight="bold" textLength="25.5" lengthAdjust="spacingAndGlyphs" >KES</text>
<text x="1269.0" y="2239.2" font-size="16" fill="#222222" text-anchor="middle" font-weight="bold" >0.00</text>
<line x1="836.6" y1="2250.7" x2="1332.7" y2="2250.7" stroke="#DBA6BC" stroke-width="1.6" stroke-dasharray="1.6 1.6"/>
<text x="1008.0" y="2272.8" font-size="15" fill="#C2379B" text-anchor="start" font-weight="bold" textLength="25.5" lengthAdjust="spacingAndGlyphs" >KES</text>
<text x="1176.0" y="2272.8" font-size="15" fill="#222222" text-anchor="start" font-weight="bold" textLength="25.5" lengthAdjust="spacingAndGlyphs" >KES</text>
<text x="1269.0" y="2272.8" font-size="16" fill="#222222" text-anchor="middle" font-weight="bold" >0.00</text>
<line x1="836.6" y1="2284.2" x2="1332.7" y2="2284.2" stroke="#DBA6BC" stroke-width="1.6" stroke-dasharray="1.6 1.6"/>
<text x="1008.0" y="2306.3" font-size="15" fill="#C2379B" text-anchor="start" font-weight="bold" textLength="25.5" lengthAdjust="spacingAndGlyphs" >KES</text>
<text x="1176.0" y="2306.3" font-size="15" fill="#222222" text-anchor="start" font-weight="bold" textLength="25.5" lengthAdjust="spacingAndGlyphs" >KES</text>
<text x="1269.0" y="2306.3" font-size="16" fill="#222222" text-anchor="middle" font-weight="bold" >0.00</text>
<line x1="836.6" y1="1445.0" x2="836.6" y2="2317.8" stroke="#D69AB3" stroke-width="1.5" />
<line x1="1002.5" y1="1445.0" x2="1002.5" y2="2317.8" stroke="#D69AB3" stroke-width="1.5" />
<line x1="1167.5" y1="1445.0" x2="1167.5" y2="2317.8" stroke="#D69AB3" stroke-width="1.5" />
<line x1="1332.7" y1="1445.0" x2="1332.7" y2="2317.8" stroke="#D69AB3" stroke-width="1.5" />
<rect x="1385.3" y="1401.6" width="496.3" height="916.2" fill="#fff" />
<rect x="1385.3" y="1401.6" width="496.3" height="43.4" fill="#C38FA5" />
<text x="1633.4" y="1430.4" font-size="19" fill="#fff" text-anchor="middle" font-weight="bold" textLength="131.7" lengthAdjust="spacingAndGlyphs" >Other Expenses</text>
<text x="1468.2" y="1468.6" font-size="16.5" fill="#B7318F" text-anchor="middle" font-weight="bold" textLength="127.0" lengthAdjust="spacingAndGlyphs" >Expense Category</text>
<text x="1633.8" y="1468.6" font-size="16.5" fill="#B7318F" text-anchor="middle" font-weight="bold" textLength="49.7" lengthAdjust="spacingAndGlyphs" >Budget</text>
<text x="1799.0" y="1468.6" font-size="16.5" fill="#B7318F" text-anchor="middle" font-weight="bold" textLength="44.5" lengthAdjust="spacingAndGlyphs" >Actual</text>
<line x1="1385.3" y1="1479.0" x2="1881.6" y2="1479.0" stroke="#D9A3B8" stroke-width="1.6" />
<text x="1468.2" y="1501.1" font-size="15" fill="#222222" text-anchor="middle" font-weight="bold" >Salon</text>
<text x="1556.0" y="1501.1" font-size="15" fill="#C2379B" text-anchor="start" font-weight="bold" textLength="25.5" lengthAdjust="spacingAndGlyphs" >KES</text>
<text x="1723.0" y="1501.1" font-size="15" fill="#222222" text-anchor="start" font-weight="bold" textLength="25.5" lengthAdjust="spacingAndGlyphs" >KES</text>
<text x="1653.0" y="1501.1" font-size="16" fill="#C2379B" text-anchor="middle" font-weight="bold" >3,000.00</text>
<text x="1817.6" y="1501.1" font-size="16" fill="#222222" text-anchor="middle" font-weight="bold" >3,000.00</text>
<line x1="1385.3" y1="1512.5" x2="1881.6" y2="1512.5" stroke="#DBA6BC" stroke-width="1.6" stroke-dasharray="1.6 1.6"/>
<text x="1468.2" y="1534.6" font-size="15" fill="#222222" text-anchor="middle" font-weight="bold" >Charity</text>
<text x="1556.0" y="1534.6" font-size="15" fill="#C2379B" text-anchor="start" font-weight="bold" textLength="25.5" lengthAdjust="spacingAndGlyphs" >KES</text>
<text x="1723.0" y="1534.6" font-size="15" fill="#222222" text-anchor="start" font-weight="bold" textLength="25.5" lengthAdjust="spacingAndGlyphs" >KES</text>
<text x="1653.0" y="1534.6" font-size="16" fill="#C2379B" text-anchor="middle" font-weight="bold" >2,000.00</text>
<text x="1817.6" y="1534.6" font-size="16" fill="#222222" text-anchor="middle" font-weight="bold" >4,200.00</text>
<line x1="1385.3" y1="1546.1" x2="1881.6" y2="1546.1" stroke="#DBA6BC" stroke-width="1.6" stroke-dasharray="1.6 1.6"/>
<text x="1468.2" y="1568.2" font-size="15" fill="#222222" text-anchor="middle" font-weight="bold" >Groceries</text>
<text x="1556.0" y="1568.2" font-size="15" fill="#C2379B" text-anchor="start" font-weight="bold" textLength="25.5" lengthAdjust="spacingAndGlyphs" >KES</text>
<text x="1723.0" y="1568.2" font-size="15" fill="#222222" text-anchor="start" font-weight="bold" textLength="25.5" lengthAdjust="spacingAndGlyphs" >KES</text>
<text x="1653.0" y="1568.2" font-size="16" fill="#C2379B" text-anchor="middle" font-weight="bold" >7,500.00</text>
<text x="1817.6" y="1568.2" font-size="16" fill="#222222" text-anchor="middle" font-weight="bold" >9,500.00</text>
<line x1="1385.3" y1="1579.7" x2="1881.6" y2="1579.7" stroke="#DBA6BC" stroke-width="1.6" stroke-dasharray="1.6 1.6"/>
<text x="1468.2" y="1601.8" font-size="15" fill="#222222" text-anchor="middle" font-weight="bold" >Transport</text>
<text x="1556.0" y="1601.8" font-size="15" fill="#C2379B" text-anchor="start" font-weight="bold" textLength="25.5" lengthAdjust="spacingAndGlyphs" >KES</text>
<text x="1723.0" y="1601.8" font-size="15" fill="#222222" text-anchor="start" font-weight="bold" textLength="25.5" lengthAdjust="spacingAndGlyphs" >KES</text>
<text x="1653.0" y="1601.8" font-size="16" fill="#C2379B" text-anchor="middle" font-weight="bold" >8,000.00</text>
<text x="1817.6" y="1601.8" font-size="16" fill="#222222" text-anchor="middle" font-weight="bold" >10,000.00</text>
<line x1="1385.3" y1="1613.2" x2="1881.6" y2="1613.2" stroke="#DBA6BC" stroke-width="1.6" stroke-dasharray="1.6 1.6"/>
<text x="1468.2" y="1635.3" font-size="15" fill="#222222" text-anchor="middle" font-weight="bold" >Entertainment</text>
<text x="1556.0" y="1635.3" font-size="15" fill="#C2379B" text-anchor="start" font-weight="bold" textLength="25.5" lengthAdjust="spacingAndGlyphs" >KES</text>
<text x="1723.0" y="1635.3" font-size="15" fill="#222222" text-anchor="start" font-weight="bold" textLength="25.5" lengthAdjust="spacingAndGlyphs" >KES</text>
<text x="1653.0" y="1635.3" font-size="16" fill="#C2379B" text-anchor="middle" font-weight="bold" >4,000.00</text>
<text x="1817.6" y="1635.3" font-size="16" fill="#222222" text-anchor="middle" font-weight="bold" >4,000.00</text>
<line x1="1385.3" y1="1646.8" x2="1881.6" y2="1646.8" stroke="#DBA6BC" stroke-width="1.6" stroke-dasharray="1.6 1.6"/>
<text x="1468.2" y="1668.8" font-size="15" fill="#222222" text-anchor="middle" font-weight="bold" >Clothing</text>
<text x="1556.0" y="1668.8" font-size="15" fill="#C2379B" text-anchor="start" font-weight="bold" textLength="25.5" lengthAdjust="spacingAndGlyphs" >KES</text>
<text x="1723.0" y="1668.8" font-size="15" fill="#222222" text-anchor="start" font-weight="bold" textLength="25.5" lengthAdjust="spacingAndGlyphs" >KES</text>
<text x="1653.0" y="1668.8" font-size="16" fill="#C2379B" text-anchor="middle" font-weight="bold" >4,000.00</text>
<text x="1817.6" y="1668.8" font-size="16" fill="#222222" text-anchor="middle" font-weight="bold" >6,500.00</text>
<line x1="1385.3" y1="1680.3" x2="1881.6" y2="1680.3" stroke="#DBA6BC" stroke-width="1.6" stroke-dasharray="1.6 1.6"/>
<text x="1556.0" y="1702.4" font-size="15" fill="#C2379B" text-anchor="start" font-weight="bold" textLength="25.5" lengthAdjust="spacingAndGlyphs" >KES</text>
<text x="1723.0" y="1702.4" font-size="15" fill="#222222" text-anchor="start" font-weight="bold" textLength="25.5" lengthAdjust="spacingAndGlyphs" >KES</text>
<text x="1817.6" y="1702.4" font-size="16" fill="#222222" text-anchor="middle" font-weight="bold" >0.00</text>
<line x1="1385.3" y1="1713.8" x2="1881.6" y2="1713.8" stroke="#DBA6BC" stroke-width="1.6" stroke-dasharray="1.6 1.6"/>
<text x="1556.0" y="1735.9" font-size="15" fill="#C2379B" text-anchor="start" font-weight="bold" textLength="25.5" lengthAdjust="spacingAndGlyphs" >KES</text>
<text x="1723.0" y="1735.9" font-size="15" fill="#222222" text-anchor="start" font-weight="bold" textLength="25.5" lengthAdjust="spacingAndGlyphs" >KES</text>
<text x="1817.6" y="1735.9" font-size="16" fill="#222222" text-anchor="middle" font-weight="bold" >0.00</text>
<line x1="1385.3" y1="1747.4" x2="1881.6" y2="1747.4" stroke="#DBA6BC" stroke-width="1.6" stroke-dasharray="1.6 1.6"/>
<text x="1556.0" y="1769.5" font-size="15" fill="#C2379B" text-anchor="start" font-weight="bold" textLength="25.5" lengthAdjust="spacingAndGlyphs" >KES</text>
<text x="1723.0" y="1769.5" font-size="15" fill="#222222" text-anchor="start" font-weight="bold" textLength="25.5" lengthAdjust="spacingAndGlyphs" >KES</text>
<text x="1817.6" y="1769.5" font-size="16" fill="#222222" text-anchor="middle" font-weight="bold" >0.00</text>
<line x1="1385.3" y1="1781.0" x2="1881.6" y2="1781.0" stroke="#DBA6BC" stroke-width="1.6" stroke-dasharray="1.6 1.6"/>
<text x="1556.0" y="1803.0" font-size="15" fill="#C2379B" text-anchor="start" font-weight="bold" textLength="25.5" lengthAdjust="spacingAndGlyphs" >KES</text>
<text x="1723.0" y="1803.0" font-size="15" fill="#222222" text-anchor="start" font-weight="bold" textLength="25.5" lengthAdjust="spacingAndGlyphs" >KES</text>
<text x="1817.6" y="1803.0" font-size="16" fill="#222222" text-anchor="middle" font-weight="bold" >0.00</text>
<line x1="1385.3" y1="1814.5" x2="1881.6" y2="1814.5" stroke="#DBA6BC" stroke-width="1.6" stroke-dasharray="1.6 1.6"/>
<text x="1556.0" y="1836.6" font-size="15" fill="#C2379B" text-anchor="start" font-weight="bold" textLength="25.5" lengthAdjust="spacingAndGlyphs" >KES</text>
<text x="1723.0" y="1836.6" font-size="15" fill="#222222" text-anchor="start" font-weight="bold" textLength="25.5" lengthAdjust="spacingAndGlyphs" >KES</text>
<text x="1817.6" y="1836.6" font-size="16" fill="#222222" text-anchor="middle" font-weight="bold" >0.00</text>
<line x1="1385.3" y1="1848.0" x2="1881.6" y2="1848.0" stroke="#DBA6BC" stroke-width="1.6" stroke-dasharray="1.6 1.6"/>
<text x="1556.0" y="1870.1" font-size="15" fill="#C2379B" text-anchor="start" font-weight="bold" textLength="25.5" lengthAdjust="spacingAndGlyphs" >KES</text>
<text x="1723.0" y="1870.1" font-size="15" fill="#222222" text-anchor="start" font-weight="bold" textLength="25.5" lengthAdjust="spacingAndGlyphs" >KES</text>
<text x="1817.6" y="1870.1" font-size="16" fill="#222222" text-anchor="middle" font-weight="bold" >0.00</text>
<line x1="1385.3" y1="1881.6" x2="1881.6" y2="1881.6" stroke="#DBA6BC" stroke-width="1.6" stroke-dasharray="1.6 1.6"/>
<text x="1556.0" y="1903.7" font-size="15" fill="#C2379B" text-anchor="start" font-weight="bold" textLength="25.5" lengthAdjust="spacingAndGlyphs" >KES</text>
<text x="1723.0" y="1903.7" font-size="15" fill="#222222" text-anchor="start" font-weight="bold" textLength="25.5" lengthAdjust="spacingAndGlyphs" >KES</text>
<text x="1817.6" y="1903.7" font-size="16" fill="#222222" text-anchor="middle" font-weight="bold" >0.00</text>
<line x1="1385.3" y1="1915.2" x2="1881.6" y2="1915.2" stroke="#DBA6BC" stroke-width="1.6" stroke-dasharray="1.6 1.6"/>
<text x="1556.0" y="1937.2" font-size="15" fill="#C2379B" text-anchor="start" font-weight="bold" textLength="25.5" lengthAdjust="spacingAndGlyphs" >KES</text>
<text x="1723.0" y="1937.2" font-size="15" fill="#222222" text-anchor="start" font-weight="bold" textLength="25.5" lengthAdjust="spacingAndGlyphs" >KES</text>
<text x="1817.6" y="1937.2" font-size="16" fill="#222222" text-anchor="middle" font-weight="bold" >0.00</text>
<line x1="1385.3" y1="1948.7" x2="1881.6" y2="1948.7" stroke="#DBA6BC" stroke-width="1.6" stroke-dasharray="1.6 1.6"/>
<text x="1556.0" y="1970.8" font-size="15" fill="#C2379B" text-anchor="start" font-weight="bold" textLength="25.5" lengthAdjust="spacingAndGlyphs" >KES</text>
<text x="1723.0" y="1970.8" font-size="15" fill="#222222" text-anchor="start" font-weight="bold" textLength="25.5" lengthAdjust="spacingAndGlyphs" >KES</text>
<text x="1817.6" y="1970.8" font-size="16" fill="#222222" text-anchor="middle" font-weight="bold" >0.00</text>
<line x1="1385.3" y1="1982.2" x2="1881.6" y2="1982.2" stroke="#DBA6BC" stroke-width="1.6" stroke-dasharray="1.6 1.6"/>
<text x="1556.0" y="2004.3" font-size="15" fill="#C2379B" text-anchor="start" font-weight="bold" textLength="25.5" lengthAdjust="spacingAndGlyphs" >KES</text>
<text x="1723.0" y="2004.3" font-size="15" fill="#222222" text-anchor="start" font-weight="bold" textLength="25.5" lengthAdjust="spacingAndGlyphs" >KES</text>
<text x="1817.6" y="2004.3" font-size="16" fill="#222222" text-anchor="middle" font-weight="bold" >0.00</text>
<line x1="1385.3" y1="2015.8" x2="1881.6" y2="2015.8" stroke="#DBA6BC" stroke-width="1.6" stroke-dasharray="1.6 1.6"/>
<text x="1556.0" y="2037.9" font-size="15" fill="#C2379B" text-anchor="start" font-weight="bold" textLength="25.5" lengthAdjust="spacingAndGlyphs" >KES</text>
<text x="1723.0" y="2037.9" font-size="15" fill="#222222" text-anchor="start" font-weight="bold" textLength="25.5" lengthAdjust="spacingAndGlyphs" >KES</text>
<text x="1817.6" y="2037.9" font-size="16" fill="#222222" text-anchor="middle" font-weight="bold" >0.00</text>
<line x1="1385.3" y1="2049.3" x2="1881.6" y2="2049.3" stroke="#DBA6BC" stroke-width="1.6" stroke-dasharray="1.6 1.6"/>
<text x="1556.0" y="2071.4" font-size="15" fill="#C2379B" text-anchor="start" font-weight="bold" textLength="25.5" lengthAdjust="spacingAndGlyphs" >KES</text>
<text x="1723.0" y="2071.4" font-size="15" fill="#222222" text-anchor="start" font-weight="bold" textLength="25.5" lengthAdjust="spacingAndGlyphs" >KES</text>
<text x="1817.6" y="2071.4" font-size="16" fill="#222222" text-anchor="middle" font-weight="bold" >0.00</text>
<line x1="1385.3" y1="2082.9" x2="1881.6" y2="2082.9" stroke="#DBA6BC" stroke-width="1.6" stroke-dasharray="1.6 1.6"/>
<text x="1556.0" y="2105.0" font-size="15" fill="#C2379B" text-anchor="start" font-weight="bold" textLength="25.5" lengthAdjust="spacingAndGlyphs" >KES</text>
<text x="1723.0" y="2105.0" font-size="15" fill="#222222" text-anchor="start" font-weight="bold" textLength="25.5" lengthAdjust="spacingAndGlyphs" >KES</text>
<text x="1817.6" y="2105.0" font-size="16" fill="#222222" text-anchor="middle" font-weight="bold" >0.00</text>
<line x1="1385.3" y1="2116.4" x2="1881.6" y2="2116.4" stroke="#DBA6BC" stroke-width="1.6" stroke-dasharray="1.6 1.6"/>
<text x="1556.0" y="2138.5" font-size="15" fill="#C2379B" text-anchor="start" font-weight="bold" textLength="25.5" lengthAdjust="spacingAndGlyphs" >KES</text>
<text x="1723.0" y="2138.5" font-size="15" fill="#222222" text-anchor="start" font-weight="bold" textLength="25.5" lengthAdjust="spacingAndGlyphs" >KES</text>
<text x="1817.6" y="2138.5" font-size="16" fill="#222222" text-anchor="middle" font-weight="bold" >0.00</text>
<line x1="1385.3" y1="2150.0" x2="1881.6" y2="2150.0" stroke="#DBA6BC" stroke-width="1.6" stroke-dasharray="1.6 1.6"/>
<text x="1556.0" y="2172.1" font-size="15" fill="#C2379B" text-anchor="start" font-weight="bold" textLength="25.5" lengthAdjust="spacingAndGlyphs" >KES</text>
<text x="1723.0" y="2172.1" font-size="15" fill="#222222" text-anchor="start" font-weight="bold" textLength="25.5" lengthAdjust="spacingAndGlyphs" >KES</text>
<text x="1817.6" y="2172.1" font-size="16" fill="#222222" text-anchor="middle" font-weight="bold" >0.00</text>
<line x1="1385.3" y1="2183.6" x2="1881.6" y2="2183.6" stroke="#DBA6BC" stroke-width="1.6" stroke-dasharray="1.6 1.6"/>
<text x="1556.0" y="2205.7" font-size="15" fill="#C2379B" text-anchor="start" font-weight="bold" textLength="25.5" lengthAdjust="spacingAndGlyphs" >KES</text>
<text x="1723.0" y="2205.7" font-size="15" fill="#222222" text-anchor="start" font-weight="bold" textLength="25.5" lengthAdjust="spacingAndGlyphs" >KES</text>
<text x="1817.6" y="2205.7" font-size="16" fill="#222222" text-anchor="middle" font-weight="bold" >0.00</text>
<line x1="1385.3" y1="2217.1" x2="1881.6" y2="2217.1" stroke="#DBA6BC" stroke-width="1.6" stroke-dasharray="1.6 1.6"/>
<text x="1556.0" y="2239.2" font-size="15" fill="#C2379B" text-anchor="start" font-weight="bold" textLength="25.5" lengthAdjust="spacingAndGlyphs" >KES</text>
<text x="1723.0" y="2239.2" font-size="15" fill="#222222" text-anchor="start" font-weight="bold" textLength="25.5" lengthAdjust="spacingAndGlyphs" >KES</text>
<text x="1817.6" y="2239.2" font-size="16" fill="#222222" text-anchor="middle" font-weight="bold" >0.00</text>
<line x1="1385.3" y1="2250.7" x2="1881.6" y2="2250.7" stroke="#DBA6BC" stroke-width="1.6" stroke-dasharray="1.6 1.6"/>
<text x="1556.0" y="2272.8" font-size="15" fill="#C2379B" text-anchor="start" font-weight="bold" textLength="25.5" lengthAdjust="spacingAndGlyphs" >KES</text>
<text x="1723.0" y="2272.8" font-size="15" fill="#222222" text-anchor="start" font-weight="bold" textLength="25.5" lengthAdjust="spacingAndGlyphs" >KES</text>
<text x="1817.6" y="2272.8" font-size="16" fill="#222222" text-anchor="middle" font-weight="bold" >0.00</text>
<line x1="1385.3" y1="2284.2" x2="1881.6" y2="2284.2" stroke="#DBA6BC" stroke-width="1.6" stroke-dasharray="1.6 1.6"/>
<text x="1556.0" y="2306.3" font-size="15" fill="#C2379B" text-anchor="start" font-weight="bold" textLength="25.5" lengthAdjust="spacingAndGlyphs" >KES</text>
<text x="1723.0" y="2306.3" font-size="15" fill="#222222" text-anchor="start" font-weight="bold" textLength="25.5" lengthAdjust="spacingAndGlyphs" >KES</text>
<text x="1817.6" y="2306.3" font-size="16" fill="#222222" text-anchor="middle" font-weight="bold" >0.00</text>
<line x1="1385.3" y1="1445.0" x2="1385.3" y2="2317.8" stroke="#D69AB3" stroke-width="1.5" />
<line x1="1551.2" y1="1445.0" x2="1551.2" y2="2317.8" stroke="#D69AB3" stroke-width="1.5" />
<line x1="1716.4" y1="1445.0" x2="1716.4" y2="2317.8" stroke="#D69AB3" stroke-width="1.5" />
<line x1="1881.6" y1="1445.0" x2="1881.6" y2="2317.8" stroke="#D69AB3" stroke-width="1.5" />
<rect x="1934.4" y="1401.6" width="495.6" height="916.2" fill="#fff" />
<rect x="1934.4" y="1401.6" width="495.6" height="43.4" fill="#D8A7BA" />
<text x="2182.2" y="1430.4" font-size="19" fill="#fff" text-anchor="middle" font-weight="bold" textLength="40.0" lengthAdjust="spacingAndGlyphs" >Debt</text>
<text x="2017.2" y="1468.6" font-size="16.5" fill="#B7318F" text-anchor="middle" font-weight="bold" textLength="79.0" lengthAdjust="spacingAndGlyphs" >Debt Name</text>
<text x="2182.5" y="1468.6" font-size="16.5" fill="#B7318F" text-anchor="middle" font-weight="bold" textLength="28.0" lengthAdjust="spacingAndGlyphs" >Due</text>
<text x="2347.5" y="1468.6" font-size="16.5" fill="#B7318F" text-anchor="middle" font-weight="bold" textLength="80.0" lengthAdjust="spacingAndGlyphs" >Actual Paid</text>
<line x1="1934.4" y1="1479.0" x2="2430.0" y2="1479.0" stroke="#D9A3B8" stroke-width="1.6" />
<text x="2017.2" y="1501.1" font-size="15" fill="#222222" text-anchor="middle" font-weight="bold" >Absa Bank Loan</text>
<text x="2107.0" y="1501.1" font-size="15" fill="#C2379B" text-anchor="start" font-weight="bold" textLength="25.5" lengthAdjust="spacingAndGlyphs" >KES</text>
<text x="2271.7" y="1501.1" font-size="15" fill="#222222" text-anchor="start" font-weight="bold" textLength="25.5" lengthAdjust="spacingAndGlyphs" >KES</text>
<text x="2202.0" y="1501.1" font-size="16" fill="#C2379B" text-anchor="middle" font-weight="bold" >21,000.00</text>
<text x="2366.0" y="1501.1" font-size="16" fill="#222222" text-anchor="middle" font-weight="bold" >21,000.00</text>
<line x1="1934.4" y1="1512.5" x2="2430.0" y2="1512.5" stroke="#DBA6BC" stroke-width="1.6" stroke-dasharray="1.6 1.6"/>
<text x="2017.2" y="1534.6" font-size="15" fill="#222222" text-anchor="middle" font-weight="bold" >Chama Loan</text>
<text x="2107.0" y="1534.6" font-size="15" fill="#C2379B" text-anchor="start" font-weight="bold" textLength="25.5" lengthAdjust="spacingAndGlyphs" >KES</text>
<text x="2271.7" y="1534.6" font-size="15" fill="#222222" text-anchor="start" font-weight="bold" textLength="25.5" lengthAdjust="spacingAndGlyphs" >KES</text>
<text x="2202.0" y="1534.6" font-size="16" fill="#C2379B" text-anchor="middle" font-weight="bold" >5,000.00</text>
<text x="2366.0" y="1534.6" font-size="16" fill="#222222" text-anchor="middle" font-weight="bold" >7,250.00</text>
<line x1="1934.4" y1="1546.1" x2="2430.0" y2="1546.1" stroke="#DBA6BC" stroke-width="1.6" stroke-dasharray="1.6 1.6"/>
<text x="2017.2" y="1568.2" font-size="15" fill="#222222" text-anchor="middle" font-weight="bold" >Stima Sacco Loan</text>
<text x="2107.0" y="1568.2" font-size="15" fill="#C2379B" text-anchor="start" font-weight="bold" textLength="25.5" lengthAdjust="spacingAndGlyphs" >KES</text>
<text x="2271.7" y="1568.2" font-size="15" fill="#222222" text-anchor="start" font-weight="bold" textLength="25.5" lengthAdjust="spacingAndGlyphs" >KES</text>
<text x="2202.0" y="1568.2" font-size="16" fill="#C2379B" text-anchor="middle" font-weight="bold" >18,000.00</text>
<text x="2366.0" y="1568.2" font-size="16" fill="#222222" text-anchor="middle" font-weight="bold" >18,000.00</text>
<line x1="1934.4" y1="1579.7" x2="2430.0" y2="1579.7" stroke="#DBA6BC" stroke-width="1.6" stroke-dasharray="1.6 1.6"/>
<text x="2017.2" y="1601.8" font-size="15" fill="#222222" text-anchor="middle" font-weight="bold" >KCB Loan</text>
<text x="2107.0" y="1601.8" font-size="15" fill="#C2379B" text-anchor="start" font-weight="bold" textLength="25.5" lengthAdjust="spacingAndGlyphs" >KES</text>
<text x="2271.7" y="1601.8" font-size="15" fill="#222222" text-anchor="start" font-weight="bold" textLength="25.5" lengthAdjust="spacingAndGlyphs" >KES</text>
<text x="2202.0" y="1601.8" font-size="16" fill="#C2379B" text-anchor="middle" font-weight="bold" >6,250.00</text>
<text x="2366.0" y="1601.8" font-size="16" fill="#222222" text-anchor="middle" font-weight="bold" >6,250.00</text>
<line x1="1934.4" y1="1613.2" x2="2430.0" y2="1613.2" stroke="#DBA6BC" stroke-width="1.6" stroke-dasharray="1.6 1.6"/>
<text x="2107.0" y="1635.3" font-size="15" fill="#C2379B" text-anchor="start" font-weight="bold" textLength="25.5" lengthAdjust="spacingAndGlyphs" >KES</text>
<text x="2271.7" y="1635.3" font-size="15" fill="#222222" text-anchor="start" font-weight="bold" textLength="25.5" lengthAdjust="spacingAndGlyphs" >KES</text>
<line x1="1934.4" y1="1646.8" x2="2430.0" y2="1646.8" stroke="#DBA6BC" stroke-width="1.6" stroke-dasharray="1.6 1.6"/>
<text x="2107.0" y="1668.8" font-size="15" fill="#C2379B" text-anchor="start" font-weight="bold" textLength="25.5" lengthAdjust="spacingAndGlyphs" >KES</text>
<text x="2271.7" y="1668.8" font-size="15" fill="#222222" text-anchor="start" font-weight="bold" textLength="25.5" lengthAdjust="spacingAndGlyphs" >KES</text>
<line x1="1934.4" y1="1680.3" x2="2430.0" y2="1680.3" stroke="#DBA6BC" stroke-width="1.6" stroke-dasharray="1.6 1.6"/>
<text x="2107.0" y="1702.4" font-size="15" fill="#C2379B" text-anchor="start" font-weight="bold" textLength="25.5" lengthAdjust="spacingAndGlyphs" >KES</text>
<text x="2271.7" y="1702.4" font-size="15" fill="#222222" text-anchor="start" font-weight="bold" textLength="25.5" lengthAdjust="spacingAndGlyphs" >KES</text>
<line x1="1934.4" y1="1713.8" x2="2430.0" y2="1713.8" stroke="#DBA6BC" stroke-width="1.6" stroke-dasharray="1.6 1.6"/>
<text x="2107.0" y="1735.9" font-size="15" fill="#C2379B" text-anchor="start" font-weight="bold" textLength="25.5" lengthAdjust="spacingAndGlyphs" >KES</text>
<text x="2271.7" y="1735.9" font-size="15" fill="#222222" text-anchor="start" font-weight="bold" textLength="25.5" lengthAdjust="spacingAndGlyphs" >KES</text>
<line x1="1934.4" y1="1747.4" x2="2430.0" y2="1747.4" stroke="#DBA6BC" stroke-width="1.6" stroke-dasharray="1.6 1.6"/>
<text x="2107.0" y="1769.5" font-size="15" fill="#C2379B" text-anchor="start" font-weight="bold" textLength="25.5" lengthAdjust="spacingAndGlyphs" >KES</text>
<text x="2271.7" y="1769.5" font-size="15" fill="#222222" text-anchor="start" font-weight="bold" textLength="25.5" lengthAdjust="spacingAndGlyphs" >KES</text>
<line x1="1934.4" y1="1781.0" x2="2430.0" y2="1781.0" stroke="#DBA6BC" stroke-width="1.6" stroke-dasharray="1.6 1.6"/>
<text x="2107.0" y="1803.0" font-size="15" fill="#C2379B" text-anchor="start" font-weight="bold" textLength="25.5" lengthAdjust="spacingAndGlyphs" >KES</text>
<text x="2271.7" y="1803.0" font-size="15" fill="#222222" text-anchor="start" font-weight="bold" textLength="25.5" lengthAdjust="spacingAndGlyphs" >KES</text>
<line x1="1934.4" y1="1814.5" x2="2430.0" y2="1814.5" stroke="#DBA6BC" stroke-width="1.6" stroke-dasharray="1.6 1.6"/>
<text x="2107.0" y="1836.6" font-size="15" fill="#C2379B" text-anchor="start" font-weight="bold" textLength="25.5" lengthAdjust="spacingAndGlyphs" >KES</text>
<text x="2271.7" y="1836.6" font-size="15" fill="#222222" text-anchor="start" font-weight="bold" textLength="25.5" lengthAdjust="spacingAndGlyphs" >KES</text>
<line x1="1934.4" y1="1848.0" x2="2430.0" y2="1848.0" stroke="#DBA6BC" stroke-width="1.6" stroke-dasharray="1.6 1.6"/>
<text x="2107.0" y="1870.1" font-size="15" fill="#C2379B" text-anchor="start" font-weight="bold" textLength="25.5" lengthAdjust="spacingAndGlyphs" >KES</text>
<text x="2271.7" y="1870.1" font-size="15" fill="#222222" text-anchor="start" font-weight="bold" textLength="25.5" lengthAdjust="spacingAndGlyphs" >KES</text>
<line x1="1934.4" y1="1881.6" x2="2430.0" y2="1881.6" stroke="#DBA6BC" stroke-width="1.6" stroke-dasharray="1.6 1.6"/>
<text x="2107.0" y="1903.7" font-size="15" fill="#C2379B" text-anchor="start" font-weight="bold" textLength="25.5" lengthAdjust="spacingAndGlyphs" >KES</text>
<text x="2271.7" y="1903.7" font-size="15" fill="#222222" text-anchor="start" font-weight="bold" textLength="25.5" lengthAdjust="spacingAndGlyphs" >KES</text>
<line x1="1934.4" y1="1915.2" x2="2430.0" y2="1915.2" stroke="#DBA6BC" stroke-width="1.6" stroke-dasharray="1.6 1.6"/>
<text x="2107.0" y="1937.2" font-size="15" fill="#C2379B" text-anchor="start" font-weight="bold" textLength="25.5" lengthAdjust="spacingAndGlyphs" >KES</text>
<text x="2271.7" y="1937.2" font-size="15" fill="#222222" text-anchor="start" font-weight="bold" textLength="25.5" lengthAdjust="spacingAndGlyphs" >KES</text>
<line x1="1934.4" y1="1948.7" x2="2430.0" y2="1948.7" stroke="#DBA6BC" stroke-width="1.6" stroke-dasharray="1.6 1.6"/>
<text x="2107.0" y="1970.8" font-size="15" fill="#C2379B" text-anchor="start" font-weight="bold" textLength="25.5" lengthAdjust="spacingAndGlyphs" >KES</text>
<text x="2271.7" y="1970.8" font-size="15" fill="#222222" text-anchor="start" font-weight="bold" textLength="25.5" lengthAdjust="spacingAndGlyphs" >KES</text>
<line x1="1934.4" y1="1982.2" x2="2430.0" y2="1982.2" stroke="#DBA6BC" stroke-width="1.6" stroke-dasharray="1.6 1.6"/>
<text x="2107.0" y="2004.3" font-size="15" fill="#C2379B" text-anchor="start" font-weight="bold" textLength="25.5" lengthAdjust="spacingAndGlyphs" >KES</text>
<text x="2271.7" y="2004.3" font-size="15" fill="#222222" text-anchor="start" font-weight="bold" textLength="25.5" lengthAdjust="spacingAndGlyphs" >KES</text>
<line x1="1934.4" y1="2015.8" x2="2430.0" y2="2015.8" stroke="#DBA6BC" stroke-width="1.6" stroke-dasharray="1.6 1.6"/>
<text x="2107.0" y="2037.9" font-size="15" fill="#C2379B" text-anchor="start" font-weight="bold" textLength="25.5" lengthAdjust="spacingAndGlyphs" >KES</text>
<text x="2271.7" y="2037.9" font-size="15" fill="#222222" text-anchor="start" font-weight="bold" textLength="25.5" lengthAdjust="spacingAndGlyphs" >KES</text>
<line x1="1934.4" y1="2049.3" x2="2430.0" y2="2049.3" stroke="#DBA6BC" stroke-width="1.6" stroke-dasharray="1.6 1.6"/>
<text x="2107.0" y="2071.4" font-size="15" fill="#C2379B" text-anchor="start" font-weight="bold" textLength="25.5" lengthAdjust="spacingAndGlyphs" >KES</text>
<text x="2271.7" y="2071.4" font-size="15" fill="#222222" text-anchor="start" font-weight="bold" textLength="25.5" lengthAdjust="spacingAndGlyphs" >KES</text>
<line x1="1934.4" y1="2082.9" x2="2430.0" y2="2082.9" stroke="#DBA6BC" stroke-width="1.6" stroke-dasharray="1.6 1.6"/>
<text x="2107.0" y="2105.0" font-size="15" fill="#C2379B" text-anchor="start" font-weight="bold" textLength="25.5" lengthAdjust="spacingAndGlyphs" >KES</text>
<text x="2271.7" y="2105.0" font-size="15" fill="#222222" text-anchor="start" font-weight="bold" textLength="25.5" lengthAdjust="spacingAndGlyphs" >KES</text>
<line x1="1934.4" y1="2116.4" x2="2430.0" y2="2116.4" stroke="#DBA6BC" stroke-width="1.6" stroke-dasharray="1.6 1.6"/>
<text x="2107.0" y="2138.5" font-size="15" fill="#C2379B" text-anchor="start" font-weight="bold" textLength="25.5" lengthAdjust="spacingAndGlyphs" >KES</text>
<text x="2271.7" y="2138.5" font-size="15" fill="#222222" text-anchor="start" font-weight="bold" textLength="25.5" lengthAdjust="spacingAndGlyphs" >KES</text>
<line x1="1934.4" y1="2150.0" x2="2430.0" y2="2150.0" stroke="#DBA6BC" stroke-width="1.6" stroke-dasharray="1.6 1.6"/>
<text x="2107.0" y="2172.1" font-size="15" fill="#C2379B" text-anchor="start" font-weight="bold" textLength="25.5" lengthAdjust="spacingAndGlyphs" >KES</text>
<text x="2271.7" y="2172.1" font-size="15" fill="#222222" text-anchor="start" font-weight="bold" textLength="25.5" lengthAdjust="spacingAndGlyphs" >KES</text>
<line x1="1934.4" y1="2183.6" x2="2430.0" y2="2183.6" stroke="#DBA6BC" stroke-width="1.6" stroke-dasharray="1.6 1.6"/>
<text x="2107.0" y="2205.7" font-size="15" fill="#C2379B" text-anchor="start" font-weight="bold" textLength="25.5" lengthAdjust="spacingAndGlyphs" >KES</text>
<text x="2271.7" y="2205.7" font-size="15" fill="#222222" text-anchor="start" font-weight="bold" textLength="25.5" lengthAdjust="spacingAndGlyphs" >KES</text>
<line x1="1934.4" y1="2217.1" x2="2430.0" y2="2217.1" stroke="#DBA6BC" stroke-width="1.6" stroke-dasharray="1.6 1.6"/>
<text x="2107.0" y="2239.2" font-size="15" fill="#C2379B" text-anchor="start" font-weight="bold" textLength="25.5" lengthAdjust="spacingAndGlyphs" >KES</text>
<text x="2271.7" y="2239.2" font-size="15" fill="#222222" text-anchor="start" font-weight="bold" textLength="25.5" lengthAdjust="spacingAndGlyphs" >KES</text>
<line x1="1934.4" y1="2250.7" x2="2430.0" y2="2250.7" stroke="#DBA6BC" stroke-width="1.6" stroke-dasharray="1.6 1.6"/>
<text x="2107.0" y="2272.8" font-size="15" fill="#C2379B" text-anchor="start" font-weight="bold" textLength="25.5" lengthAdjust="spacingAndGlyphs" >KES</text>
<text x="2271.7" y="2272.8" font-size="15" fill="#222222" text-anchor="start" font-weight="bold" textLength="25.5" lengthAdjust="spacingAndGlyphs" >KES</text>
<line x1="1934.4" y1="2284.2" x2="2430.0" y2="2284.2" stroke="#DBA6BC" stroke-width="1.6" stroke-dasharray="1.6 1.6"/>
<text x="2107.0" y="2306.3" font-size="15" fill="#C2379B" text-anchor="start" font-weight="bold" textLength="25.5" lengthAdjust="spacingAndGlyphs" >KES</text>
<text x="2271.7" y="2306.3" font-size="15" fill="#222222" text-anchor="start" font-weight="bold" textLength="25.5" lengthAdjust="spacingAndGlyphs" >KES</text>
<line x1="1934.4" y1="1445.0" x2="1934.4" y2="2317.8" stroke="#D69AB3" stroke-width="1.5" />
<line x1="2100.0" y1="1445.0" x2="2100.0" y2="2317.8" stroke="#D69AB3" stroke-width="1.5" />
<line x1="2265.0" y1="1445.0" x2="2265.0" y2="2317.8" stroke="#D69AB3" stroke-width="1.5" />
<line x1="2430.0" y1="1445.0" x2="2430.0" y2="2317.8" stroke="#D69AB3" stroke-width="1.5" />
</svg>
<svg class="abs" style="left:0;top:0" width="2560" height="2560" viewBox="0 0 2560 2560">
<path d="M163 121.3a24.3 24.3 0 0 1 24.3 24.3c0 7-2.5 11.5-5.5 16.5l-15.2 26.5q-3.6 5.5-7.2 0l-15.2-26.5c-3-5-5.5-9.500-5.500-16.500a24.300 24.300 0 0 1 24.300-24.300z" fill="#000"/>
<line x1="240.5" y1="145.6" x2="200" y2="216.4" stroke="#000" stroke-width="48.4" stroke-linecap="round"/>
<line x1="318.6" y1="145.6" x2="277.8" y2="216.4" stroke="#000" stroke-width="48.4" stroke-linecap="round"/>
<path d="M433.2 1194.2C430.5 1186.8 422.0 1166.5 417.0 1150.0C412.0 1133.5 405.8 1110.7 403.0 1095.0C400.2 1079.3 400.5 1070.2 400.3 1056.0C400.1 1041.8 400.3 1024.1 402.0 1010.0C403.7 995.9 405.6 986.1 410.4 971.2C415.1 956.3 423.1 933.9 430.5 920.8C437.9 907.7 450.7 897.3 454.7 892.6" fill="none" stroke="#000" stroke-width="6.6"/>
<path d="M487 854.6Q455 872 422 878.4L454.7 891.5L472.5 921.8Q474 885 487 854.6Z" fill="#000"/>
<path d="M509.8 1519.8C511.2 1523.2 514.4 1533.3 518.0 1540.0C521.6 1546.7 526.5 1554.3 531.7 1559.9C536.9 1565.5 542.7 1570.5 549.0 1573.5C555.3 1576.5 562.3 1577.9 569.3 1578.0C576.3 1578.1 584.3 1576.6 591.0 1574.0C597.7 1571.4 604.1 1567.6 609.4 1562.4C614.7 1557.2 619.6 1550.1 623.0 1543.0C626.4 1535.9 628.4 1523.7 629.5 1519.8" fill="none" stroke="#000" stroke-width="7.2"/>
<path d="M575.7 1579.3C572.7 1588.6 562.4 1615.3 557.6 1634.9C552.8 1654.5 548.7 1680.2 546.8 1697.0C544.9 1713.8 544.6 1723.3 546.0 1735.8C547.4 1748.3 548.8 1761.4 555.0 1772.0C561.2 1782.6 573.6 1793.5 583.5 1799.2C593.4 1804.9 601.6 1806.2 614.5 1806.2C627.4 1806.2 646.8 1801.7 661.0 1799.2C675.2 1796.7 687.0 1793.0 700.0 1791.4C713.0 1789.8 726.6 1788.3 738.7 1789.6C750.8 1790.9 762.9 1793.1 772.4 1799.2C781.9 1805.3 790.2 1815.4 795.7 1826.4C801.2 1837.4 803.7 1852.3 805.5 1865.2C807.3 1878.1 807.1 1888.9 806.5 1904.0C805.9 1919.1 803.5 1941.4 802.0 1955.7C800.5 1970.0 799.9 1969.3 797.7 1990.0C795.5 2010.7 791.5 2050.0 789.0 2080.0C786.5 2110.0 784.6 2136.0 783.0 2170.0C781.4 2204.0 780.2 2265.0 779.6 2284.0" fill="none" stroke="#000" stroke-width="7.8"/>
<path d="M779.4 2333Q768 2296 745.7 2272.3L779.4 2283.7L813.3 2272.3Q791 2296 779.4 2333Z" fill="#000"/>
<text x="368.10" y="157.70" font-family="'DejaVu Sans','Liberation Sans',sans-serif" font-weight="bold" font-size="33.23" textLength="65.05" lengthAdjust="spacingAndGlyphs" fill="#000">The</text>
<text x="368.50" y="195.70" font-family="'DejaVu Sans','Liberation Sans',sans-serif" font-weight="bold" font-size="33.23" textLength="257.68" lengthAdjust="spacingAndGlyphs" fill="#000">Wealth Basket</text>
<text x="368.00" y="233.80" font-family="'DejaVu Sans','Liberation Sans',sans-serif" font-weight="bold" font-size="33.23" textLength="228.45" lengthAdjust="spacingAndGlyphs" fill="#000">Consultancy</text>
<text x="204.73" y="535.60" font-family="'DejaVu Sans','Liberation Sans',sans-serif" font-weight="bold" font-size="184.92" textLength="845.00" lengthAdjust="spacingAndGlyphs" fill="#000">Monthly</text>
<text x="204.87" y="740.20" font-family="'DejaVu Sans','Liberation Sans',sans-serif" font-weight="bold" font-size="184.92" textLength="1115.52" lengthAdjust="spacingAndGlyphs" fill="#000">Dashboard</text>
<text x="1046.35" y="534.30" font-family="'DejaVu Sans','Liberation Sans',sans-serif" font-weight="bold" font-size="165.69" textLength="193.69" lengthAdjust="spacingAndGlyphs" fill="#000">—</text>
<text x="1276.06" y="476.20" font-family="'DejaVu Sans','Liberation Sans',sans-serif" font-weight="normal" font-size="47.66" textLength="1114.73" lengthAdjust="spacingAndGlyphs" fill="#000">Plan and Track your Income, Expenses, Debt,</text>
<text x="1274.50" y="535.40" font-family="'DejaVu Sans','Liberation Sans',sans-serif" font-weight="normal" font-size="47.66" textLength="892.72" lengthAdjust="spacingAndGlyphs" fill="#000">Savings &amp; Investments each month.</text>
<text x="541.01" y="851.00" font-family="'DejaVu Sans','Liberation Sans',sans-serif" font-weight="normal" font-size="45.89" textLength="568.40" lengthAdjust="spacingAndGlyphs" fill="#000">Your Monthly Finances</text>
<text x="538.81" y="911.30" font-family="'DejaVu Sans','Liberation Sans',sans-serif" font-weight="normal" font-size="45.89" textLength="289.89" lengthAdjust="spacingAndGlyphs" fill="#000">at a Glance.</text>
<text x="168.25" y="2367.20" font-family="'DejaVu Sans','Liberation Sans',sans-serif" font-weight="normal" font-size="29.28" textLength="1607.96" lengthAdjust="spacingAndGlyphs" fill="#000">Compare your budgeted amounts with your actual spending to see exactly where your money went and</text>
<text x="167.80" y="2404.10" font-family="'DejaVu Sans','Liberation Sans',sans-serif" font-weight="normal" font-size="29.28" textLength="1159.11" lengthAdjust="spacingAndGlyphs" fill="#000">identify areas where you may need to make adjustments or improvements.</text>
</svg>
</body></html>
